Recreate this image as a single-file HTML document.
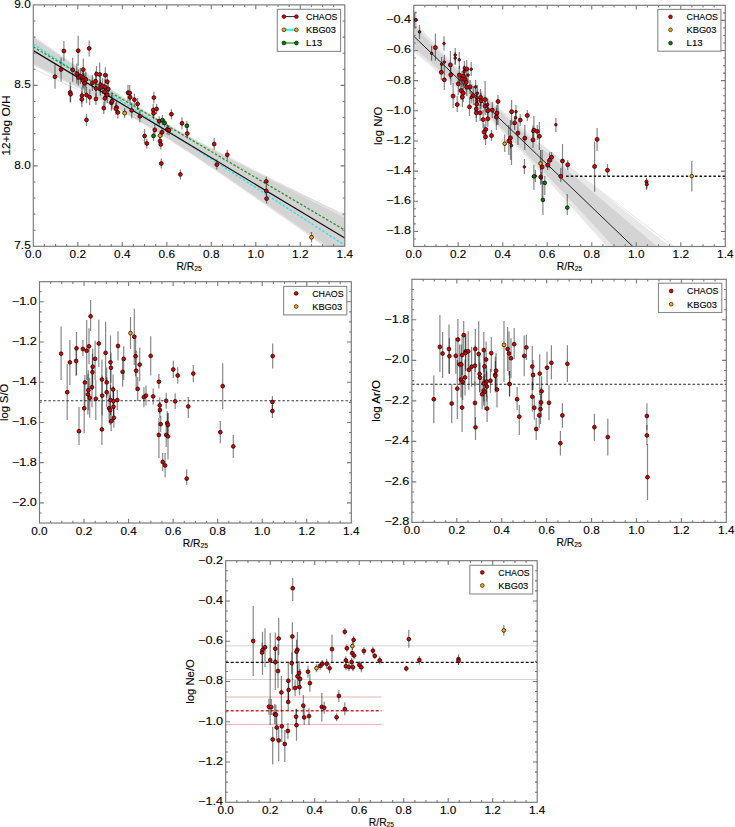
<!DOCTYPE html><html><head><meta charset="utf-8"><style>html,body{margin:0;padding:0;background:#fff;}svg{display:block;}text{font-family:"Liberation Sans",sans-serif;font-size:10.3px;fill:#000;stroke:#000;stroke-width:0.12px;}</style></head><body>
<svg width="735" height="827" viewBox="0 0 735 827">
<rect width="735" height="827" fill="#fff"/>
<defs>
<clipPath id="c0"><rect x="33.3" y="4.9" width="311.5" height="241.4"/></clipPath>
<clipPath id="c1"><rect x="413.7" y="5.3" width="311.59999999999997" height="241.2"/></clipPath>
<clipPath id="c2"><rect x="39.5" y="281.7" width="311.8" height="241.3"/></clipPath>
<clipPath id="c3"><rect x="411.9" y="279.3" width="314.4" height="243.09999999999997"/></clipPath>
<clipPath id="c4"><rect x="225.7" y="560.7" width="311.50000000000006" height="241.5999999999999"/></clipPath>
</defs>
<g clip-path="url(#c0)">
<polygon points="33.30,35.91 37.75,39.01 42.20,42.11 46.65,45.21 51.10,48.29 55.55,51.38 60.00,54.45 64.45,57.52 68.90,60.58 73.35,63.63 77.80,66.68 82.25,69.71 86.70,72.73 91.15,75.74 95.60,78.73 100.05,81.71 104.50,84.68 108.95,87.62 113.40,90.54 117.85,93.44 122.30,96.32 126.75,99.16 131.20,101.98 135.65,104.78 140.10,107.54 144.55,110.26 149.00,112.96 153.45,115.62 157.90,118.25 162.35,120.84 166.80,123.41 171.25,125.94 175.70,128.45 180.15,130.93 184.60,133.39 189.05,135.82 193.50,138.23 197.95,140.63 202.40,143.01 206.85,145.37 211.30,147.71 215.75,150.05 220.20,152.37 224.65,154.68 229.10,156.99 233.55,159.28 238.00,161.57 242.45,163.85 246.90,166.12 251.35,168.39 255.80,170.65 260.25,172.91 264.70,175.16 269.15,177.41 273.60,179.66 278.05,181.90 282.50,184.14 286.95,186.38 291.40,188.61 295.85,190.84 300.30,193.07 304.75,195.30 309.20,197.52 313.65,199.75 318.10,201.97 322.55,204.19 327.00,206.40 331.45,208.62 335.90,210.84 340.35,213.05 344.80,215.26 344.80,260.86 340.35,257.71 335.90,254.57 331.45,251.43 327.00,248.29 322.55,245.15 318.10,242.02 313.65,238.88 309.20,235.75 304.75,232.62 300.30,229.49 295.85,226.36 291.40,223.24 286.95,220.12 282.50,217.00 278.05,213.88 273.60,210.77 269.15,207.66 264.70,204.55 260.25,201.45 255.80,198.35 251.35,195.26 246.90,192.17 242.45,189.09 238.00,186.01 233.55,182.94 229.10,179.88 224.65,176.83 220.20,173.78 215.75,170.75 211.30,167.73 206.85,164.72 202.40,161.73 197.95,158.75 193.50,155.79 189.05,152.84 184.60,149.92 180.15,147.02 175.70,144.15 171.25,141.30 166.80,138.48 162.35,135.69 157.90,132.93 153.45,130.20 149.00,127.51 144.55,124.84 140.10,122.22 135.65,119.62 131.20,117.05 126.75,114.52 122.30,112.01 117.85,109.53 113.40,107.07 108.95,104.64 104.50,102.23 100.05,99.83 95.60,97.46 91.15,95.10 86.70,92.75 82.25,90.41 77.80,88.09 73.35,85.78 68.90,83.48 64.45,81.18 60.00,78.89 55.55,76.61 51.10,74.34 46.65,72.07 42.20,69.81 37.75,67.55 33.30,65.30" fill="#e3e3e3"/>
<polygon points="33.30,37.60 37.75,40.66 42.20,43.71 46.65,46.75 51.10,49.79 55.55,52.83 60.00,55.86 64.45,58.88 68.90,61.90 73.35,64.91 77.80,67.91 82.25,70.90 86.70,73.88 91.15,76.85 95.60,79.81 100.05,82.76 104.50,85.69 108.95,88.60 113.40,91.49 117.85,94.37 122.30,97.22 126.75,100.05 131.20,102.85 135.65,105.63 140.10,108.38 144.55,111.10 149.00,113.79 153.45,116.46 157.90,119.09 162.35,121.70 166.80,124.28 171.25,126.83 175.70,129.35 180.15,131.86 184.60,134.34 189.05,136.80 193.50,139.24 197.95,141.67 202.40,144.08 206.85,146.48 211.30,148.87 215.75,151.24 220.20,153.60 224.65,155.96 229.10,158.30 233.55,160.64 238.00,162.97 242.45,165.30 246.90,167.62 251.35,169.94 255.80,172.25 260.25,174.55 264.70,176.85 269.15,179.15 273.60,181.45 278.05,183.74 282.50,186.03 286.95,188.32 291.40,190.60 295.85,192.89 300.30,195.17 304.75,197.44 309.20,199.72 313.65,202.00 318.10,204.27 322.55,206.54 327.00,208.81 331.45,211.08 335.90,213.35 340.35,215.62 344.80,217.89 344.80,258.23 340.35,255.14 335.90,252.06 331.45,248.97 327.00,245.88 322.55,242.80 318.10,239.71 313.65,236.63 309.20,233.55 304.75,230.47 300.30,227.40 295.85,224.32 291.40,221.25 286.95,218.18 282.50,215.11 278.05,212.04 273.60,208.98 269.15,205.92 264.70,202.86 260.25,199.81 255.80,196.76 251.35,193.71 246.90,190.67 242.45,187.63 238.00,184.60 233.55,181.58 229.10,178.56 224.65,175.55 220.20,172.55 215.75,169.56 211.30,166.58 206.85,163.61 202.40,160.65 197.95,157.71 193.50,154.78 189.05,151.86 184.60,148.97 180.15,146.10 175.70,143.24 171.25,140.41 166.80,137.61 162.35,134.83 157.90,132.08 153.45,129.36 149.00,126.67 144.55,124.01 140.10,121.37 135.65,118.77 131.20,116.19 126.75,113.64 122.30,111.11 117.85,108.61 113.40,106.12 108.95,103.66 104.50,101.22 100.05,98.79 95.60,96.38 91.15,93.98 86.70,91.60 82.25,89.22 77.80,86.86 73.35,84.50 68.90,82.16 64.45,79.82 60.00,77.49 55.55,75.16 51.10,72.84 46.65,70.53 42.20,68.22 37.75,65.91 33.30,63.61" fill="#d3d3d3"/>
<line x1="33.3" y1="68.7" x2="345" y2="214.9" stroke="#d8d8d8" stroke-width="0.7"/>
<line x1="33.30" y1="44.17" x2="344.80" y2="245.14" stroke="#22e5e5" stroke-width="1.35" stroke-dasharray="2.5 1.8"/>
<line x1="33.30" y1="46.90" x2="344.80" y2="230.08" stroke="#2a962a" stroke-width="1.35" stroke-dasharray="2.5 1.8"/>
<line x1="33.30" y1="50.61" x2="344.80" y2="238.06" stroke="#111" stroke-width="1.25"/>
<g stroke="#000" stroke-opacity="0.47" stroke-width="1.2">
<path d="M55.00 64.70V88.70"/>
<path d="M61.10 57.50V81.50"/>
<path d="M63.90 41.00V61.00"/>
<path d="M72.70 57.80V81.80"/>
<path d="M78.20 35.70V65.70"/>
<path d="M89.20 40.40V56.40"/>
<path d="M70.20 82.40V102.40"/>
<path d="M70.60 86.20V102.20"/>
<path d="M76.80 63.60V83.60"/>
<path d="M78.40 69.50V85.50"/>
<path d="M80.40 68.10V84.10"/>
<path d="M82.90 67.50V87.50"/>
<path d="M83.30 58.60V80.60"/>
<path d="M83.10 72.60V88.60"/>
<path d="M84.80 73.20V93.20"/>
<path d="M85.90 71.50V87.50"/>
<path d="M82.00 87.60V103.60"/>
<path d="M81.80 91.30V107.30"/>
<path d="M86.50 86.90V102.90"/>
<path d="M89.70 89.20V105.20"/>
<path d="M86.50 113.90V125.90"/>
<path d="M92.40 74.90V90.90"/>
<path d="M95.60 71.20V91.20"/>
<path d="M96.50 66.10V82.10"/>
<path d="M99.70 62.50V86.50"/>
<path d="M105.30 67.20V83.20"/>
<path d="M107.30 73.60V89.60"/>
<path d="M96.10 80.40V96.40"/>
<path d="M95.90 92.90V104.90"/>
<path d="M100.50 76.70V92.70"/>
<path d="M100.40 79.70V95.70"/>
<path d="M102.60 78.30V94.30"/>
<path d="M104.90 79.00V95.00"/>
<path d="M108.30 81.00V97.00"/>
<path d="M104.60 83.80V99.80"/>
<path d="M107.30 86.90V102.90"/>
<path d="M104.90 90.30V106.30"/>
<path d="M103.80 102.10V114.10"/>
<path d="M111.40 94.70V110.70"/>
<path d="M112.10 93.30V109.30"/>
<path d="M116.50 101.40V113.40"/>
<path d="M115.80 102.80V114.80"/>
<path d="M117.80 106.40V118.40"/>
<path d="M128.00 84.70V100.70"/>
<path d="M129.70 84.90V100.90"/>
<path d="M130.10 91.20V103.20"/>
<path d="M134.40 93.70V105.70"/>
<path d="M137.60 98.00V110.00"/>
<path d="M131.70 102.40V118.40"/>
<path d="M139.90 110.30V122.30"/>
<path d="M153.90 91.60V103.60"/>
<path d="M153.20 104.10V116.10"/>
<path d="M153.60 107.30V119.30"/>
<path d="M156.60 104.00V114.00"/>
<path d="M154.80 123.90V135.90"/>
<path d="M144.60 129.00V143.00"/>
<path d="M146.80 138.50V148.50"/>
<path d="M159.20 116.20V126.20"/>
<path d="M162.00 127.30V137.30"/>
<path d="M167.30 124.40V134.40"/>
<path d="M169.00 125.20V135.20"/>
<path d="M160.00 136.10V146.10"/>
<path d="M160.80 139.40V149.40"/>
<path d="M171.40 109.20V119.20"/>
<path d="M182.00 117.30V129.30"/>
<path d="M187.30 128.50V138.50"/>
<path d="M161.30 158.50V168.50"/>
<path d="M180.40 169.40V179.40"/>
<path d="M214.20 138.10V150.10"/>
<path d="M227.30 149.80V159.80"/>
<path d="M216.80 159.60V169.60"/>
<path d="M266.30 176.40V186.40"/>
<path d="M266.30 185.90V195.90"/>
<path d="M266.60 193.60V203.60"/>
<path d="M162.40 115.10V125.10"/>
<path d="M164.60 118.90V126.90"/>
<path d="M186.90 120.80V130.80"/>
<path d="M153.50 130.90V140.90"/>
<path d="M124.60 108.10V118.10"/>
<path d="M160.00 131.60V139.60"/>
<path d="M311.50 232.00V242.60"/>
</g>
<circle cx="55.00" cy="76.70" r="1.95" fill="#e00000" stroke="#000" stroke-width="0.7"/>
<circle cx="61.10" cy="69.50" r="1.95" fill="#e00000" stroke="#000" stroke-width="0.7"/>
<circle cx="63.90" cy="51.00" r="1.95" fill="#e00000" stroke="#000" stroke-width="0.7"/>
<circle cx="72.70" cy="69.80" r="1.95" fill="#e00000" stroke="#000" stroke-width="0.7"/>
<circle cx="78.20" cy="50.70" r="1.95" fill="#e00000" stroke="#000" stroke-width="0.7"/>
<circle cx="89.20" cy="48.40" r="1.95" fill="#e00000" stroke="#000" stroke-width="0.7"/>
<circle cx="70.20" cy="92.40" r="1.95" fill="#e00000" stroke="#000" stroke-width="0.7"/>
<circle cx="70.60" cy="94.20" r="1.95" fill="#e00000" stroke="#000" stroke-width="0.7"/>
<circle cx="76.80" cy="73.60" r="1.95" fill="#e00000" stroke="#000" stroke-width="0.7"/>
<circle cx="78.40" cy="77.50" r="1.95" fill="#e00000" stroke="#000" stroke-width="0.7"/>
<circle cx="80.40" cy="76.10" r="1.95" fill="#e00000" stroke="#000" stroke-width="0.7"/>
<circle cx="82.90" cy="77.50" r="1.95" fill="#e00000" stroke="#000" stroke-width="0.7"/>
<circle cx="83.30" cy="69.60" r="1.95" fill="#e00000" stroke="#000" stroke-width="0.7"/>
<circle cx="83.10" cy="80.60" r="1.95" fill="#e00000" stroke="#000" stroke-width="0.7"/>
<circle cx="84.80" cy="83.20" r="1.95" fill="#e00000" stroke="#000" stroke-width="0.7"/>
<circle cx="85.90" cy="79.50" r="1.95" fill="#e00000" stroke="#000" stroke-width="0.7"/>
<circle cx="82.00" cy="95.60" r="1.95" fill="#e00000" stroke="#000" stroke-width="0.7"/>
<circle cx="81.80" cy="99.30" r="1.95" fill="#e00000" stroke="#000" stroke-width="0.7"/>
<circle cx="86.50" cy="94.90" r="1.95" fill="#e00000" stroke="#000" stroke-width="0.7"/>
<circle cx="89.70" cy="97.20" r="1.95" fill="#e00000" stroke="#000" stroke-width="0.7"/>
<circle cx="86.50" cy="119.90" r="1.95" fill="#e00000" stroke="#000" stroke-width="0.7"/>
<circle cx="92.40" cy="82.90" r="1.95" fill="#e00000" stroke="#000" stroke-width="0.7"/>
<circle cx="95.60" cy="81.20" r="1.95" fill="#e00000" stroke="#000" stroke-width="0.7"/>
<circle cx="96.50" cy="74.10" r="1.95" fill="#e00000" stroke="#000" stroke-width="0.7"/>
<circle cx="99.70" cy="74.50" r="1.95" fill="#e00000" stroke="#000" stroke-width="0.7"/>
<circle cx="105.30" cy="75.20" r="1.95" fill="#e00000" stroke="#000" stroke-width="0.7"/>
<circle cx="107.30" cy="81.60" r="1.95" fill="#e00000" stroke="#000" stroke-width="0.7"/>
<circle cx="96.10" cy="88.40" r="1.95" fill="#e00000" stroke="#000" stroke-width="0.7"/>
<circle cx="95.90" cy="98.90" r="1.95" fill="#e00000" stroke="#000" stroke-width="0.7"/>
<circle cx="100.50" cy="84.70" r="1.95" fill="#e00000" stroke="#000" stroke-width="0.7"/>
<circle cx="100.40" cy="87.70" r="1.95" fill="#e00000" stroke="#000" stroke-width="0.7"/>
<circle cx="102.60" cy="86.30" r="1.95" fill="#e00000" stroke="#000" stroke-width="0.7"/>
<circle cx="104.90" cy="87.00" r="1.95" fill="#e00000" stroke="#000" stroke-width="0.7"/>
<circle cx="108.30" cy="89.00" r="1.95" fill="#e00000" stroke="#000" stroke-width="0.7"/>
<circle cx="104.60" cy="91.80" r="1.95" fill="#e00000" stroke="#000" stroke-width="0.7"/>
<circle cx="107.30" cy="94.90" r="1.95" fill="#e00000" stroke="#000" stroke-width="0.7"/>
<circle cx="104.90" cy="98.30" r="1.95" fill="#e00000" stroke="#000" stroke-width="0.7"/>
<circle cx="103.80" cy="108.10" r="1.95" fill="#e00000" stroke="#000" stroke-width="0.7"/>
<circle cx="111.40" cy="102.70" r="1.95" fill="#e00000" stroke="#000" stroke-width="0.7"/>
<circle cx="112.10" cy="101.30" r="1.95" fill="#e00000" stroke="#000" stroke-width="0.7"/>
<circle cx="116.50" cy="107.40" r="1.95" fill="#e00000" stroke="#000" stroke-width="0.7"/>
<circle cx="115.80" cy="108.80" r="1.95" fill="#e00000" stroke="#000" stroke-width="0.7"/>
<circle cx="117.80" cy="112.40" r="1.95" fill="#e00000" stroke="#000" stroke-width="0.7"/>
<circle cx="128.00" cy="92.70" r="1.95" fill="#e00000" stroke="#000" stroke-width="0.7"/>
<circle cx="129.70" cy="92.90" r="1.95" fill="#e00000" stroke="#000" stroke-width="0.7"/>
<circle cx="130.10" cy="97.20" r="1.95" fill="#e00000" stroke="#000" stroke-width="0.7"/>
<circle cx="134.40" cy="99.70" r="1.95" fill="#e00000" stroke="#000" stroke-width="0.7"/>
<circle cx="137.60" cy="104.00" r="1.95" fill="#e00000" stroke="#000" stroke-width="0.7"/>
<circle cx="131.70" cy="110.40" r="1.95" fill="#e00000" stroke="#000" stroke-width="0.7"/>
<circle cx="139.90" cy="116.30" r="1.95" fill="#e00000" stroke="#000" stroke-width="0.7"/>
<circle cx="153.90" cy="97.60" r="1.95" fill="#e00000" stroke="#000" stroke-width="0.7"/>
<circle cx="153.20" cy="110.10" r="1.95" fill="#e00000" stroke="#000" stroke-width="0.7"/>
<circle cx="153.60" cy="113.30" r="1.95" fill="#e00000" stroke="#000" stroke-width="0.7"/>
<circle cx="156.60" cy="109.00" r="1.95" fill="#e00000" stroke="#000" stroke-width="0.7"/>
<circle cx="154.80" cy="129.90" r="1.95" fill="#e00000" stroke="#000" stroke-width="0.7"/>
<circle cx="144.60" cy="136.00" r="1.95" fill="#e00000" stroke="#000" stroke-width="0.7"/>
<circle cx="146.80" cy="143.50" r="1.95" fill="#e00000" stroke="#000" stroke-width="0.7"/>
<circle cx="159.20" cy="121.20" r="1.95" fill="#e00000" stroke="#000" stroke-width="0.7"/>
<circle cx="162.00" cy="132.30" r="1.95" fill="#e00000" stroke="#000" stroke-width="0.7"/>
<circle cx="167.30" cy="129.40" r="1.95" fill="#e00000" stroke="#000" stroke-width="0.7"/>
<circle cx="169.00" cy="130.20" r="1.95" fill="#e00000" stroke="#000" stroke-width="0.7"/>
<circle cx="160.00" cy="141.10" r="1.95" fill="#e00000" stroke="#000" stroke-width="0.7"/>
<circle cx="160.80" cy="144.40" r="1.95" fill="#e00000" stroke="#000" stroke-width="0.7"/>
<circle cx="171.40" cy="114.20" r="1.95" fill="#e00000" stroke="#000" stroke-width="0.7"/>
<circle cx="182.00" cy="123.30" r="1.95" fill="#e00000" stroke="#000" stroke-width="0.7"/>
<circle cx="187.30" cy="133.50" r="1.95" fill="#e00000" stroke="#000" stroke-width="0.7"/>
<circle cx="161.30" cy="163.50" r="1.95" fill="#e00000" stroke="#000" stroke-width="0.7"/>
<circle cx="180.40" cy="174.40" r="1.95" fill="#e00000" stroke="#000" stroke-width="0.7"/>
<circle cx="214.20" cy="144.10" r="1.95" fill="#e00000" stroke="#000" stroke-width="0.7"/>
<circle cx="227.30" cy="154.80" r="1.95" fill="#e00000" stroke="#000" stroke-width="0.7"/>
<circle cx="216.80" cy="164.60" r="1.95" fill="#e00000" stroke="#000" stroke-width="0.7"/>
<circle cx="266.30" cy="181.40" r="1.95" fill="#e00000" stroke="#000" stroke-width="0.7"/>
<circle cx="266.30" cy="190.90" r="1.95" fill="#e00000" stroke="#000" stroke-width="0.7"/>
<circle cx="266.60" cy="198.60" r="1.95" fill="#e00000" stroke="#000" stroke-width="0.7"/>
<circle cx="162.40" cy="120.10" r="1.95" fill="#008000" stroke="#000" stroke-width="0.7"/>
<circle cx="164.60" cy="122.90" r="1.95" fill="#008000" stroke="#000" stroke-width="0.7"/>
<circle cx="186.90" cy="125.80" r="1.95" fill="#008000" stroke="#000" stroke-width="0.7"/>
<circle cx="153.50" cy="135.90" r="1.95" fill="#008000" stroke="#000" stroke-width="0.7"/>
<circle cx="124.60" cy="113.10" r="1.95" fill="#ffa500" stroke="#000" stroke-width="0.7"/>
<circle cx="160.00" cy="135.60" r="1.95" fill="#ffa500" stroke="#000" stroke-width="0.7"/>
<circle cx="311.50" cy="237.30" r="1.95" fill="#ffa500" stroke="#000" stroke-width="0.7"/>
</g>
<path d="M44.42 246.30v-2.2M44.42 4.90v2.2M55.55 246.30v-2.2M55.55 4.90v2.2M66.68 246.30v-2.2M66.68 4.90v2.2M77.80 246.30v-4.3M77.80 4.90v4.3M88.92 246.30v-2.2M88.92 4.90v2.2M100.05 246.30v-2.2M100.05 4.90v2.2M111.18 246.30v-2.2M111.18 4.90v2.2M122.30 246.30v-4.3M122.30 4.90v4.3M133.43 246.30v-2.2M133.43 4.90v2.2M144.55 246.30v-2.2M144.55 4.90v2.2M155.68 246.30v-2.2M155.68 4.90v2.2M166.80 246.30v-4.3M166.80 4.90v4.3M177.93 246.30v-2.2M177.93 4.90v2.2M189.05 246.30v-2.2M189.05 4.90v2.2M200.18 246.30v-2.2M200.18 4.90v2.2M211.30 246.30v-4.3M211.30 4.90v4.3M222.43 246.30v-2.2M222.43 4.90v2.2M233.55 246.30v-2.2M233.55 4.90v2.2M244.68 246.30v-2.2M244.68 4.90v2.2M255.80 246.30v-4.3M255.80 4.90v4.3M266.93 246.30v-2.2M266.93 4.90v2.2M278.05 246.30v-2.2M278.05 4.90v2.2M289.18 246.30v-2.2M289.18 4.90v2.2M300.30 246.30v-4.3M300.30 4.90v4.3M311.43 246.30v-2.2M311.43 4.90v2.2M322.55 246.30v-2.2M322.55 4.90v2.2M333.68 246.30v-2.2M333.68 4.90v2.2M33.30 230.21h2.2M344.80 230.21h-2.2M33.30 214.11h2.2M344.80 214.11h-2.2M33.30 198.02h2.2M344.80 198.02h-2.2M33.30 181.93h2.2M344.80 181.93h-2.2M33.30 165.83h4.3M344.80 165.83h-4.3M33.30 149.74h2.2M344.80 149.74h-2.2M33.30 133.65h2.2M344.80 133.65h-2.2M33.30 117.55h2.2M344.80 117.55h-2.2M33.30 101.46h2.2M344.80 101.46h-2.2M33.30 85.37h4.3M344.80 85.37h-4.3M33.30 69.27h2.2M344.80 69.27h-2.2M33.30 53.18h2.2M344.80 53.18h-2.2M33.30 37.09h2.2M344.80 37.09h-2.2M33.30 20.99h2.2M344.80 20.99h-2.2" stroke="#777777" stroke-width="1.1" fill="none"/>
<rect x="33.30" y="4.90" width="311.50" height="241.40" fill="none" stroke="#777777" stroke-width="1.15"/>
<text x="33.30" y="258.00" text-anchor="middle" textLength="16.38" lengthAdjust="spacingAndGlyphs">0.0</text>
<text x="77.80" y="258.00" text-anchor="middle" textLength="16.38" lengthAdjust="spacingAndGlyphs">0.2</text>
<text x="122.30" y="258.00" text-anchor="middle" textLength="16.38" lengthAdjust="spacingAndGlyphs">0.4</text>
<text x="166.80" y="258.00" text-anchor="middle" textLength="16.38" lengthAdjust="spacingAndGlyphs">0.6</text>
<text x="211.30" y="258.00" text-anchor="middle" textLength="16.38" lengthAdjust="spacingAndGlyphs">0.8</text>
<text x="255.80" y="258.00" text-anchor="middle" textLength="16.38" lengthAdjust="spacingAndGlyphs">1.0</text>
<text x="300.30" y="258.00" text-anchor="middle" textLength="16.38" lengthAdjust="spacingAndGlyphs">1.2</text>
<text x="344.80" y="258.00" text-anchor="middle" textLength="16.38" lengthAdjust="spacingAndGlyphs">1.4</text>
<text x="30.70" y="249.25" text-anchor="end" textLength="16.38" lengthAdjust="spacingAndGlyphs">7.5</text>
<text x="30.70" y="168.78" text-anchor="end" textLength="16.38" lengthAdjust="spacingAndGlyphs">8.0</text>
<text x="30.70" y="88.32" text-anchor="end" textLength="16.38" lengthAdjust="spacingAndGlyphs">8.5</text>
<text x="30.70" y="7.85" text-anchor="end" textLength="16.38" lengthAdjust="spacingAndGlyphs">9.0</text>
<text x="176.42" y="270.00" textLength="17.78" lengthAdjust="spacingAndGlyphs">R/R</text>
<text x="194.21" y="271.20" style="font-size:7.00px" textLength="7.47" lengthAdjust="spacingAndGlyphs">25</text>
<text transform="translate(10.40 125.60) rotate(-90)" x="0" y="0" text-anchor="middle" textLength="60.03" lengthAdjust="spacingAndGlyphs">12+log O/H</text>
<rect x="277.30" y="9.30" width="63.30" height="42.10" fill="#fff" stroke="#8a8a8a" stroke-width="1.1"/>
<line x1="283.9" y1="16.6" x2="296.4" y2="16.6" stroke="#222" stroke-width="1.0"/>
<circle cx="283.9" cy="16.6" r="1.9" fill="#e00000" stroke="#000" stroke-width="0.6"/>
<circle cx="296.4" cy="16.6" r="1.9" fill="#e00000" stroke="#000" stroke-width="0.6"/>
<text x="306.0" y="19.90" style="font-size:9.0px" textLength="31.47" lengthAdjust="spacingAndGlyphs">CHAOS</text>
<line x1="283.9" y1="29.8" x2="296.4" y2="29.8" stroke="#33f0f0" stroke-width="2.2"/>
<circle cx="283.9" cy="29.8" r="1.9" fill="#ffa500" stroke="#000" stroke-width="0.6"/>
<circle cx="296.4" cy="29.8" r="1.9" fill="#ffa500" stroke="#000" stroke-width="0.6"/>
<text x="306.0" y="33.10" style="font-size:9.0px" textLength="29.96" lengthAdjust="spacingAndGlyphs">KBG03</text>
<line x1="283.9" y1="43.0" x2="296.4" y2="43.0" stroke="#70c070" stroke-width="2.2"/>
<circle cx="283.9" cy="43.0" r="1.9" fill="#008000" stroke="#000" stroke-width="0.6"/>
<circle cx="296.4" cy="43.0" r="1.9" fill="#008000" stroke="#000" stroke-width="0.6"/>
<text x="306.0" y="46.30" style="font-size:9.0px" textLength="16.19" lengthAdjust="spacingAndGlyphs">L13</text>
<g clip-path="url(#c1)">
<polygon points="413.70,20.54 418.15,25.44 422.60,30.32 427.05,35.18 431.51,40.01 435.96,44.82 440.41,49.60 444.86,54.34 449.31,59.04 453.76,63.70 458.21,68.31 462.67,72.87 467.12,77.37 471.57,81.81 476.02,86.18 480.47,90.49 484.92,94.73 489.37,98.90 493.83,103.01 498.28,107.05 502.73,111.04 507.18,114.97 511.63,118.86 516.08,122.70 520.53,126.50 524.99,130.27 529.44,134.00 533.89,137.71 538.34,141.40 542.79,145.06 547.24,148.71 551.69,152.34 556.15,155.95 560.60,159.55 565.05,163.14 569.50,166.72 573.95,170.29 578.40,173.85 582.85,177.41 587.31,180.95 591.76,184.49 596.21,188.03 600.66,191.56 605.11,195.09 609.56,198.61 614.01,202.13 618.47,205.64 622.92,209.15 627.37,212.66 631.82,216.17 636.27,219.67 640.72,223.17 645.17,226.67 649.63,230.16 654.08,233.66 658.53,237.15 662.98,240.64 667.43,244.13 671.88,247.62 676.33,251.11 680.79,254.59 685.24,258.08 689.69,261.56 694.14,265.05 698.59,268.53 703.04,272.01 707.49,275.49 711.95,278.97 716.40,282.44 720.85,285.92 725.30,289.40 725.30,381.12 720.85,376.06 716.40,370.99 711.95,365.92 707.49,360.86 703.04,355.79 698.59,350.73 694.14,345.67 689.69,340.60 685.24,335.54 680.79,330.48 676.33,325.42 671.88,320.37 667.43,315.31 662.98,310.26 658.53,305.20 654.08,300.15 649.63,295.10 645.17,290.05 640.72,285.01 636.27,279.96 631.82,274.92 627.37,269.88 622.92,264.85 618.47,259.81 614.01,254.78 609.56,249.76 605.11,244.74 600.66,239.72 596.21,234.70 591.76,229.69 587.31,224.69 582.85,219.69 578.40,214.70 573.95,209.72 569.50,204.74 565.05,199.78 560.60,194.82 556.15,189.88 551.69,184.95 547.24,180.03 542.79,175.14 538.34,170.25 533.89,165.40 529.44,160.56 524.99,155.75 520.53,150.98 516.08,146.23 511.63,141.53 507.18,136.87 502.73,132.26 498.28,127.70 493.83,123.20 489.37,118.77 484.92,114.39 480.47,110.09 476.02,105.85 471.57,101.68 467.12,97.57 462.67,93.52 458.21,89.54 453.76,85.60 449.31,81.72 444.86,77.88 440.41,74.08 435.96,70.31 431.51,66.57 427.05,62.86 422.60,59.18 418.15,55.51 413.70,51.87" fill="#e8e8e8"/>
<polygon points="413.70,24.88 418.15,29.57 422.60,34.24 427.05,38.90 431.51,43.54 435.96,48.16 440.41,52.75 444.86,57.33 449.31,61.88 453.76,66.39 458.21,70.88 462.67,75.33 467.12,79.75 471.57,84.12 476.02,88.46 480.47,92.75 484.92,97.00 489.37,101.21 493.83,105.38 498.28,109.51 502.73,113.60 507.18,117.66 511.63,121.69 516.08,125.68 520.53,129.65 524.99,133.60 529.44,137.53 533.89,141.43 538.34,145.32 542.79,149.19 547.24,153.05 551.69,156.90 556.15,160.73 560.60,164.55 565.05,168.37 569.50,172.18 573.95,175.98 578.40,179.77 582.85,183.56 587.31,187.34 591.76,191.12 596.21,194.90 600.66,198.67 605.11,202.43 609.56,206.19 614.01,209.95 618.47,213.71 622.92,217.46 627.37,221.21 631.82,224.96 636.27,228.71 640.72,232.46 645.17,236.20 649.63,239.94 654.08,243.68 658.53,247.42 662.98,251.16 667.43,254.89 671.88,258.63 676.33,262.36 680.79,266.10 685.24,269.83 689.69,273.56 694.14,277.29 698.59,281.02 703.04,284.75 707.49,288.47 711.95,292.20 716.40,295.93 720.85,299.65 725.30,303.38 725.30,367.14 720.85,362.32 716.40,357.51 711.95,352.69 707.49,347.87 703.04,343.05 698.59,338.24 694.14,333.42 689.69,328.61 685.24,323.79 680.79,318.98 676.33,314.17 671.88,309.36 667.43,304.55 662.98,299.74 658.53,294.94 654.08,290.13 649.63,285.33 645.17,280.52 640.72,275.72 636.27,270.92 631.82,266.12 627.37,261.33 622.92,256.54 618.47,251.75 614.01,246.96 609.56,242.17 605.11,237.39 600.66,232.61 596.21,227.84 591.76,223.07 587.31,218.30 582.85,213.54 578.40,208.78 573.95,204.03 569.50,199.29 565.05,194.55 560.60,189.82 556.15,185.10 551.69,180.39 547.24,175.69 542.79,171.01 538.34,166.34 533.89,161.68 529.44,157.04 524.99,152.42 520.53,147.82 516.08,143.25 511.63,138.70 507.18,134.18 502.73,129.70 498.28,125.24 493.83,120.83 489.37,116.45 484.92,112.12 480.47,107.83 476.02,103.57 471.57,99.36 467.12,95.20 462.67,91.07 458.21,86.97 453.76,82.91 449.31,78.89 444.86,74.89 440.41,70.92 435.96,66.97 431.51,63.05 427.05,59.14 422.60,55.26 418.15,51.38 413.70,47.53" fill="#d4d4d4"/>
<line x1="413.7" y1="48.4" x2="725" y2="285.6" stroke="#d8d8d8" stroke-width="0.7"/>
<line x1="413.70" y1="36.20" x2="658.53" y2="271.18" stroke="#222" stroke-width="1.0"/>
<path d="M415.6 12.6V27" stroke="#c4c4c4" stroke-width="1.6"/>
<path d="M416.6 12.3H414.3V27.2H416.6" stroke="#444" stroke-width="1.0" fill="none"/>
<line x1="566.16" y1="176.25" x2="725.3" y2="176.25" stroke="#111" stroke-width="1.3" stroke-dasharray="2.5 2.1"/>
<g stroke="#000" stroke-opacity="0.47" stroke-width="1.2">
<path d="M419.50 24.70V39.00"/>
<path d="M431.60 45.80V60.80"/>
<path d="M435.40 33.60V60.80"/>
<path d="M444.00 36.30V50.60"/>
<path d="M441.60 57.00V73.00"/>
<path d="M444.30 55.00V72.00"/>
<path d="M441.30 65.00V80.00"/>
<path d="M450.40 51.00V79.00"/>
<path d="M450.80 67.00V85.00"/>
<path d="M444.30 72.00V90.00"/>
<path d="M455.20 48.00V65.00"/>
<path d="M455.20 52.10V64.10"/>
<path d="M459.30 52.00V69.00"/>
<path d="M459.30 66.00V85.00"/>
<path d="M464.40 61.00V77.00"/>
<path d="M464.20 65.40V77.40"/>
<path d="M466.70 60.00V78.00"/>
<path d="M471.20 62.00V76.00"/>
<path d="M463.30 68.00V86.00"/>
<path d="M468.10 68.00V82.00"/>
<path d="M462.00 71.10V87.10"/>
<path d="M465.10 71.70V87.70"/>
<path d="M466.10 74.40V90.40"/>
<path d="M458.30 75.00V95.00"/>
<path d="M466.70 78.00V96.00"/>
<path d="M470.10 80.00V94.00"/>
<path d="M475.60 80.00V94.00"/>
<path d="M461.00 82.00V100.00"/>
<path d="M463.30 84.00V102.00"/>
<path d="M462.40 88.00V107.00"/>
<path d="M453.10 83.00V108.00"/>
<path d="M457.20 96.00V112.00"/>
<path d="M477.30 85.00V102.00"/>
<path d="M473.30 86.00V105.00"/>
<path d="M471.20 91.40V103.40"/>
<path d="M476.50 91.80V103.80"/>
<path d="M480.60 89.00V106.00"/>
<path d="M485.10 81.00V110.00"/>
<path d="M476.70 94.50V106.50"/>
<path d="M481.00 92.80V108.80"/>
<path d="M476.70 96.00V113.00"/>
<path d="M485.10 98.00V115.00"/>
<path d="M487.60 98.60V110.60"/>
<path d="M469.50 98.00V116.00"/>
<path d="M476.30 100.00V118.00"/>
<path d="M476.30 104.00V122.00"/>
<path d="M480.10 104.00V121.00"/>
<path d="M487.80 102.00V120.00"/>
<path d="M492.30 102.00V118.00"/>
<path d="M498.00 95.00V125.00"/>
<path d="M496.90 105.00V125.00"/>
<path d="M496.30 108.00V130.00"/>
<path d="M483.10 110.00V128.00"/>
<path d="M487.80 110.00V127.00"/>
<path d="M511.60 100.00V125.00"/>
<path d="M516.00 105.00V118.00"/>
<path d="M515.70 112.00V124.00"/>
<path d="M520.20 114.00V126.00"/>
<path d="M514.60 116.00V130.00"/>
<path d="M527.30 110.00V121.00"/>
<path d="M485.80 120.00V138.00"/>
<path d="M484.10 124.00V140.00"/>
<path d="M485.60 130.00V145.00"/>
<path d="M491.50 130.00V141.00"/>
<path d="M555.90 118.00V132.00"/>
<path d="M533.90 116.00V142.00"/>
<path d="M532.90 125.40V137.40"/>
<path d="M537.30 125.00V140.00"/>
<path d="M539.40 122.00V150.00"/>
<path d="M533.00 130.00V148.00"/>
<path d="M524.80 125.00V150.00"/>
<path d="M517.90 122.00V145.00"/>
<path d="M510.50 120.00V160.00"/>
<path d="M508.80 125.00V155.00"/>
<path d="M510.50 136.40V148.40"/>
<path d="M511.50 140.00V165.00"/>
<path d="M524.40 159.00V174.00"/>
<path d="M551.60 152.00V162.00"/>
<path d="M549.60 152.30V168.30"/>
<path d="M547.60 160.00V170.00"/>
<path d="M562.50 144.00V176.00"/>
<path d="M567.70 160.00V170.00"/>
<path d="M542.10 150.00V200.00"/>
<path d="M540.70 168.90V184.90"/>
<path d="M541.20 172.00V184.00"/>
<path d="M535.40 170.10V182.10"/>
<path d="M560.80 168.00V182.00"/>
<path d="M594.60 141.70V191.70"/>
<path d="M607.50 164.00V176.00"/>
<path d="M597.10 128.00V151.00"/>
<path d="M646.50 178.00V190.00"/>
<path d="M646.80 181.00V189.00"/>
<path d="M504.70 134.50V152.00"/>
<path d="M540.50 150.00V170.00"/>
<path d="M691.80 161.00V191.50"/>
<path d="M533.90 165.00V190.00"/>
<path d="M544.80 176.00V195.00"/>
<path d="M542.90 181.00V215.00"/>
<path d="M567.30 194.00V215.00"/>
</g>
<circle cx="415.80" cy="19.90" r="1.35" fill="#e00000" stroke="#000" stroke-width="0.7"/>
<circle cx="419.50" cy="31.90" r="1.3" fill="#e00000" stroke="#000" stroke-width="0.7"/>
<circle cx="431.60" cy="53.30" r="1.3" fill="#e00000" stroke="#000" stroke-width="0.7"/>
<circle cx="435.40" cy="47.60" r="2.0" fill="#e00000" stroke="#000" stroke-width="0.7"/>
<circle cx="444.00" cy="43.50" r="1.3" fill="#e00000" stroke="#000" stroke-width="0.7"/>
<circle cx="441.60" cy="64.20" r="1.3" fill="#e00000" stroke="#000" stroke-width="0.7"/>
<circle cx="444.30" cy="62.10" r="1.3" fill="#e00000" stroke="#000" stroke-width="0.7"/>
<circle cx="441.30" cy="72.30" r="2.0" fill="#e00000" stroke="#000" stroke-width="0.7"/>
<circle cx="450.40" cy="64.90" r="2.0" fill="#e00000" stroke="#000" stroke-width="0.7"/>
<circle cx="450.80" cy="74.70" r="2.0" fill="#e00000" stroke="#000" stroke-width="0.7"/>
<circle cx="444.30" cy="79.80" r="2.0" fill="#e00000" stroke="#000" stroke-width="0.7"/>
<circle cx="455.20" cy="55.10" r="1.3" fill="#e00000" stroke="#000" stroke-width="0.7"/>
<circle cx="455.20" cy="58.10" r="1.3" fill="#e00000" stroke="#000" stroke-width="0.7"/>
<circle cx="459.30" cy="59.80" r="1.3" fill="#e00000" stroke="#000" stroke-width="0.7"/>
<circle cx="459.30" cy="75.10" r="2.0" fill="#e00000" stroke="#000" stroke-width="0.7"/>
<circle cx="464.40" cy="67.90" r="1.3" fill="#e00000" stroke="#000" stroke-width="0.7"/>
<circle cx="464.20" cy="71.40" r="1.3" fill="#e00000" stroke="#000" stroke-width="0.7"/>
<circle cx="466.70" cy="68.90" r="2.0" fill="#e00000" stroke="#000" stroke-width="0.7"/>
<circle cx="471.20" cy="69.20" r="1.3" fill="#e00000" stroke="#000" stroke-width="0.7"/>
<circle cx="463.30" cy="76.20" r="2.0" fill="#e00000" stroke="#000" stroke-width="0.7"/>
<circle cx="468.10" cy="75.10" r="1.3" fill="#e00000" stroke="#000" stroke-width="0.7"/>
<circle cx="462.00" cy="79.10" r="2.0" fill="#e00000" stroke="#000" stroke-width="0.7"/>
<circle cx="465.10" cy="79.70" r="2.0" fill="#e00000" stroke="#000" stroke-width="0.7"/>
<circle cx="466.10" cy="82.40" r="2.0" fill="#e00000" stroke="#000" stroke-width="0.7"/>
<circle cx="458.30" cy="83.80" r="2.0" fill="#e00000" stroke="#000" stroke-width="0.7"/>
<circle cx="466.70" cy="87.20" r="2.0" fill="#e00000" stroke="#000" stroke-width="0.7"/>
<circle cx="470.10" cy="86.90" r="2.0" fill="#e00000" stroke="#000" stroke-width="0.7"/>
<circle cx="475.60" cy="86.90" r="1.3" fill="#e00000" stroke="#000" stroke-width="0.7"/>
<circle cx="461.00" cy="90.60" r="2.0" fill="#e00000" stroke="#000" stroke-width="0.7"/>
<circle cx="463.30" cy="93.10" r="2.0" fill="#e00000" stroke="#000" stroke-width="0.7"/>
<circle cx="462.40" cy="97.00" r="2.0" fill="#e00000" stroke="#000" stroke-width="0.7"/>
<circle cx="453.10" cy="96.10" r="2.0" fill="#e00000" stroke="#000" stroke-width="0.7"/>
<circle cx="457.20" cy="104.60" r="2.0" fill="#e00000" stroke="#000" stroke-width="0.7"/>
<circle cx="477.30" cy="93.30" r="1.3" fill="#e00000" stroke="#000" stroke-width="0.7"/>
<circle cx="473.30" cy="95.60" r="2.0" fill="#e00000" stroke="#000" stroke-width="0.7"/>
<circle cx="471.20" cy="97.40" r="1.3" fill="#e00000" stroke="#000" stroke-width="0.7"/>
<circle cx="476.50" cy="97.80" r="1.3" fill="#e00000" stroke="#000" stroke-width="0.7"/>
<circle cx="480.60" cy="97.40" r="2.0" fill="#e00000" stroke="#000" stroke-width="0.7"/>
<circle cx="485.10" cy="99.50" r="2.0" fill="#e00000" stroke="#000" stroke-width="0.7"/>
<circle cx="476.70" cy="100.50" r="1.3" fill="#e00000" stroke="#000" stroke-width="0.7"/>
<circle cx="481.00" cy="100.80" r="2.0" fill="#e00000" stroke="#000" stroke-width="0.7"/>
<circle cx="476.70" cy="104.20" r="2.0" fill="#e00000" stroke="#000" stroke-width="0.7"/>
<circle cx="485.10" cy="106.00" r="2.0" fill="#e00000" stroke="#000" stroke-width="0.7"/>
<circle cx="487.60" cy="104.60" r="1.3" fill="#e00000" stroke="#000" stroke-width="0.7"/>
<circle cx="469.50" cy="106.90" r="2.0" fill="#e00000" stroke="#000" stroke-width="0.7"/>
<circle cx="476.30" cy="109.00" r="2.0" fill="#e00000" stroke="#000" stroke-width="0.7"/>
<circle cx="476.30" cy="112.80" r="2.0" fill="#e00000" stroke="#000" stroke-width="0.7"/>
<circle cx="480.10" cy="112.80" r="2.0" fill="#e00000" stroke="#000" stroke-width="0.7"/>
<circle cx="487.80" cy="110.70" r="2.0" fill="#e00000" stroke="#000" stroke-width="0.7"/>
<circle cx="492.30" cy="110.10" r="2.0" fill="#e00000" stroke="#000" stroke-width="0.7"/>
<circle cx="498.00" cy="101.50" r="2.0" fill="#e00000" stroke="#000" stroke-width="0.7"/>
<circle cx="496.90" cy="113.10" r="2.0" fill="#e00000" stroke="#000" stroke-width="0.7"/>
<circle cx="496.30" cy="117.10" r="2.0" fill="#e00000" stroke="#000" stroke-width="0.7"/>
<circle cx="483.10" cy="119.60" r="2.0" fill="#e00000" stroke="#000" stroke-width="0.7"/>
<circle cx="487.80" cy="118.80" r="2.0" fill="#e00000" stroke="#000" stroke-width="0.7"/>
<circle cx="511.60" cy="111.70" r="2.0" fill="#e00000" stroke="#000" stroke-width="0.7"/>
<circle cx="516.00" cy="111.70" r="1.3" fill="#e00000" stroke="#000" stroke-width="0.7"/>
<circle cx="515.70" cy="117.80" r="1.3" fill="#e00000" stroke="#000" stroke-width="0.7"/>
<circle cx="520.20" cy="120.10" r="2.0" fill="#e00000" stroke="#000" stroke-width="0.7"/>
<circle cx="514.60" cy="122.90" r="2.0" fill="#e00000" stroke="#000" stroke-width="0.7"/>
<circle cx="527.30" cy="115.50" r="2.0" fill="#e00000" stroke="#000" stroke-width="0.7"/>
<circle cx="485.80" cy="129.40" r="2.0" fill="#e00000" stroke="#000" stroke-width="0.7"/>
<circle cx="484.10" cy="132.10" r="2.0" fill="#e00000" stroke="#000" stroke-width="0.7"/>
<circle cx="485.60" cy="136.80" r="2.0" fill="#e00000" stroke="#000" stroke-width="0.7"/>
<circle cx="491.50" cy="135.60" r="2.0" fill="#e00000" stroke="#000" stroke-width="0.7"/>
<circle cx="555.90" cy="124.70" r="1.3" fill="#e00000" stroke="#000" stroke-width="0.7"/>
<circle cx="533.90" cy="130.10" r="2.0" fill="#e00000" stroke="#000" stroke-width="0.7"/>
<circle cx="532.90" cy="131.40" r="1.3" fill="#e00000" stroke="#000" stroke-width="0.7"/>
<circle cx="537.30" cy="131.40" r="2.0" fill="#e00000" stroke="#000" stroke-width="0.7"/>
<circle cx="539.40" cy="136.30" r="2.0" fill="#e00000" stroke="#000" stroke-width="0.7"/>
<circle cx="533.00" cy="139.90" r="2.0" fill="#e00000" stroke="#000" stroke-width="0.7"/>
<circle cx="524.80" cy="138.20" r="2.0" fill="#e00000" stroke="#000" stroke-width="0.7"/>
<circle cx="517.90" cy="133.10" r="2.0" fill="#e00000" stroke="#000" stroke-width="0.7"/>
<circle cx="510.50" cy="137.90" r="2.0" fill="#e00000" stroke="#000" stroke-width="0.7"/>
<circle cx="508.80" cy="141.00" r="2.0" fill="#e00000" stroke="#000" stroke-width="0.7"/>
<circle cx="510.50" cy="142.40" r="1.3" fill="#e00000" stroke="#000" stroke-width="0.7"/>
<circle cx="511.50" cy="145.60" r="1.3" fill="#e00000" stroke="#000" stroke-width="0.7"/>
<circle cx="524.40" cy="166.90" r="1.3" fill="#e00000" stroke="#000" stroke-width="0.7"/>
<circle cx="551.60" cy="157.20" r="2.0" fill="#e00000" stroke="#000" stroke-width="0.7"/>
<circle cx="549.60" cy="160.30" r="2.0" fill="#e00000" stroke="#000" stroke-width="0.7"/>
<circle cx="547.60" cy="165.10" r="2.0" fill="#e00000" stroke="#000" stroke-width="0.7"/>
<circle cx="562.50" cy="161.00" r="2.0" fill="#e00000" stroke="#000" stroke-width="0.7"/>
<circle cx="567.70" cy="164.70" r="2.0" fill="#e00000" stroke="#000" stroke-width="0.7"/>
<circle cx="542.10" cy="166.90" r="2.0" fill="#e00000" stroke="#000" stroke-width="0.7"/>
<circle cx="540.70" cy="176.90" r="2.0" fill="#e00000" stroke="#000" stroke-width="0.7"/>
<circle cx="541.20" cy="178.00" r="1.3" fill="#e00000" stroke="#000" stroke-width="0.7"/>
<circle cx="535.40" cy="176.10" r="1.3" fill="#e00000" stroke="#000" stroke-width="0.7"/>
<circle cx="560.80" cy="176.30" r="2.0" fill="#e00000" stroke="#000" stroke-width="0.7"/>
<circle cx="594.60" cy="166.50" r="2.0" fill="#e00000" stroke="#000" stroke-width="0.7"/>
<circle cx="607.50" cy="170.30" r="2.0" fill="#e00000" stroke="#000" stroke-width="0.7"/>
<circle cx="597.10" cy="139.40" r="2.0" fill="#e00000" stroke="#000" stroke-width="0.7"/>
<circle cx="646.50" cy="181.60" r="1.6" fill="#e00000" stroke="#000" stroke-width="0.7"/>
<circle cx="646.80" cy="184.30" r="1.6" fill="#e00000" stroke="#000" stroke-width="0.7"/>
<circle cx="504.70" cy="143.70" r="1.85" fill="#ffa500" stroke="#000" stroke-width="0.7"/>
<circle cx="540.50" cy="163.50" r="1.85" fill="#ffa500" stroke="#000" stroke-width="0.7"/>
<circle cx="691.80" cy="176.10" r="1.85" fill="#ffa500" stroke="#000" stroke-width="0.7"/>
<circle cx="533.90" cy="176.40" r="1.85" fill="#008000" stroke="#000" stroke-width="0.7"/>
<circle cx="544.80" cy="182.80" r="1.85" fill="#008000" stroke="#000" stroke-width="0.7"/>
<circle cx="542.90" cy="199.90" r="1.85" fill="#008000" stroke="#000" stroke-width="0.7"/>
<circle cx="567.30" cy="207.60" r="1.85" fill="#008000" stroke="#000" stroke-width="0.7"/>
</g>
<path d="M424.83 246.50v-2.2M424.83 5.30v2.2M435.96 246.50v-2.2M435.96 5.30v2.2M447.09 246.50v-2.2M447.09 5.30v2.2M458.21 246.50v-4.3M458.21 5.30v4.3M469.34 246.50v-2.2M469.34 5.30v2.2M480.47 246.50v-2.2M480.47 5.30v2.2M491.60 246.50v-2.2M491.60 5.30v2.2M502.73 246.50v-4.3M502.73 5.30v4.3M513.86 246.50v-2.2M513.86 5.30v2.2M524.99 246.50v-2.2M524.99 5.30v2.2M536.11 246.50v-2.2M536.11 5.30v2.2M547.24 246.50v-4.3M547.24 5.30v4.3M558.37 246.50v-2.2M558.37 5.30v2.2M569.50 246.50v-2.2M569.50 5.30v2.2M580.63 246.50v-2.2M580.63 5.30v2.2M591.76 246.50v-4.3M591.76 5.30v4.3M602.89 246.50v-2.2M602.89 5.30v2.2M614.01 246.50v-2.2M614.01 5.30v2.2M625.14 246.50v-2.2M625.14 5.30v2.2M636.27 246.50v-4.3M636.27 5.30v4.3M647.40 246.50v-2.2M647.40 5.30v2.2M658.53 246.50v-2.2M658.53 5.30v2.2M669.66 246.50v-2.2M669.66 5.30v2.2M680.79 246.50v-4.3M680.79 5.30v4.3M691.91 246.50v-2.2M691.91 5.30v2.2M703.04 246.50v-2.2M703.04 5.30v2.2M714.17 246.50v-2.2M714.17 5.30v2.2M413.70 238.96h2.2M725.30 238.96h-2.2M413.70 231.43h4.3M725.30 231.43h-4.3M413.70 223.89h2.2M725.30 223.89h-2.2M413.70 216.35h2.2M725.30 216.35h-2.2M413.70 208.81h2.2M725.30 208.81h-2.2M413.70 201.28h4.3M725.30 201.28h-4.3M413.70 193.74h2.2M725.30 193.74h-2.2M413.70 186.20h2.2M725.30 186.20h-2.2M413.70 178.66h2.2M725.30 178.66h-2.2M413.70 171.13h4.3M725.30 171.13h-4.3M413.70 163.59h2.2M725.30 163.59h-2.2M413.70 156.05h2.2M725.30 156.05h-2.2M413.70 148.51h2.2M725.30 148.51h-2.2M413.70 140.98h4.3M725.30 140.98h-4.3M413.70 133.44h2.2M725.30 133.44h-2.2M413.70 125.90h2.2M725.30 125.90h-2.2M413.70 118.36h2.2M725.30 118.36h-2.2M413.70 110.82h4.3M725.30 110.82h-4.3M413.70 103.29h2.2M725.30 103.29h-2.2M413.70 95.75h2.2M725.30 95.75h-2.2M413.70 88.21h2.2M725.30 88.21h-2.2M413.70 80.67h4.3M725.30 80.67h-4.3M413.70 73.14h2.2M725.30 73.14h-2.2M413.70 65.60h2.2M725.30 65.60h-2.2M413.70 58.06h2.2M725.30 58.06h-2.2M413.70 50.53h4.3M725.30 50.53h-4.3M413.70 42.99h2.2M725.30 42.99h-2.2M413.70 35.45h2.2M725.30 35.45h-2.2M413.70 27.91h2.2M725.30 27.91h-2.2M413.70 20.38h4.3M725.30 20.38h-4.3M413.70 12.84h2.2M725.30 12.84h-2.2" stroke="#777777" stroke-width="1.1" fill="none"/>
<rect x="413.70" y="5.30" width="311.60" height="241.20" fill="none" stroke="#777777" stroke-width="1.15"/>
<text x="413.70" y="258.20" text-anchor="middle" textLength="16.38" lengthAdjust="spacingAndGlyphs">0.0</text>
<text x="458.21" y="258.20" text-anchor="middle" textLength="16.38" lengthAdjust="spacingAndGlyphs">0.2</text>
<text x="502.73" y="258.20" text-anchor="middle" textLength="16.38" lengthAdjust="spacingAndGlyphs">0.4</text>
<text x="547.24" y="258.20" text-anchor="middle" textLength="16.38" lengthAdjust="spacingAndGlyphs">0.6</text>
<text x="591.76" y="258.20" text-anchor="middle" textLength="16.38" lengthAdjust="spacingAndGlyphs">0.8</text>
<text x="636.27" y="258.20" text-anchor="middle" textLength="16.38" lengthAdjust="spacingAndGlyphs">1.0</text>
<text x="680.79" y="258.20" text-anchor="middle" textLength="16.38" lengthAdjust="spacingAndGlyphs">1.2</text>
<text x="725.30" y="258.20" text-anchor="middle" textLength="16.38" lengthAdjust="spacingAndGlyphs">1.4</text>
<text x="411.10" y="234.38" text-anchor="end" textLength="25.01" lengthAdjust="spacingAndGlyphs">−1.8</text>
<text x="411.10" y="204.23" text-anchor="end" textLength="25.01" lengthAdjust="spacingAndGlyphs">−1.6</text>
<text x="411.10" y="174.07" text-anchor="end" textLength="25.01" lengthAdjust="spacingAndGlyphs">−1.4</text>
<text x="411.10" y="143.92" text-anchor="end" textLength="25.01" lengthAdjust="spacingAndGlyphs">−1.2</text>
<text x="411.10" y="113.77" text-anchor="end" textLength="25.01" lengthAdjust="spacingAndGlyphs">−1.0</text>
<text x="411.10" y="83.62" text-anchor="end" textLength="25.01" lengthAdjust="spacingAndGlyphs">−0.8</text>
<text x="411.10" y="53.47" text-anchor="end" textLength="25.01" lengthAdjust="spacingAndGlyphs">−0.6</text>
<text x="411.10" y="23.33" text-anchor="end" textLength="25.01" lengthAdjust="spacingAndGlyphs">−0.4</text>
<text x="556.87" y="270.20" textLength="17.78" lengthAdjust="spacingAndGlyphs">R/R</text>
<text x="574.66" y="271.40" style="font-size:7.00px" textLength="7.47" lengthAdjust="spacingAndGlyphs">25</text>
<text transform="translate(382.30 125.90) rotate(-90)" x="0" y="0" text-anchor="middle" textLength="38.26" lengthAdjust="spacingAndGlyphs">log N/O</text>
<circle cx="415.8" cy="19.9" r="1.45" fill="#e00000" stroke="#000" stroke-width="0.7"/>
<rect x="657.80" y="9.40" width="63.10" height="41.80" fill="#fff" stroke="#8a8a8a" stroke-width="1.1"/>
<circle cx="670.5" cy="16.8" r="1.9" fill="#e00000" stroke="#000" stroke-width="0.6"/>
<text x="686.5" y="20.10" style="font-size:9.0px" textLength="31.47" lengthAdjust="spacingAndGlyphs">CHAOS</text>
<circle cx="670.5" cy="29.8" r="1.9" fill="#ffa500" stroke="#000" stroke-width="0.6"/>
<text x="686.5" y="33.10" style="font-size:9.0px" textLength="29.96" lengthAdjust="spacingAndGlyphs">KBG03</text>
<circle cx="670.5" cy="43.1" r="1.9" fill="#008000" stroke="#000" stroke-width="0.6"/>
<text x="686.5" y="46.40" style="font-size:9.0px" textLength="16.19" lengthAdjust="spacingAndGlyphs">L13</text>
<g clip-path="url(#c2)">
<line x1="39.5" y1="400.74" x2="351.3" y2="400.74" stroke="#333" stroke-width="1.2" stroke-dasharray="2.4 2.1"/>
<g stroke="#000" stroke-opacity="0.47" stroke-width="1.2">
<path d="M61.10 326.50V380.00"/>
<path d="M69.90 340.00V385.00"/>
<path d="M76.50 332.00V375.00"/>
<path d="M76.10 346.00V376.00"/>
<path d="M82.90 340.00V356.00"/>
<path d="M86.70 320.00V380.00"/>
<path d="M89.00 328.30V364.30"/>
<path d="M90.60 300.00V331.00"/>
<path d="M98.80 319.70V367.00"/>
<path d="M95.10 340.80V380.00"/>
<path d="M92.70 348.70V384.70"/>
<path d="M92.40 354.10V390.10"/>
<path d="M105.60 321.80V383.00"/>
<path d="M110.50 335.40V389.00"/>
<path d="M111.00 352.80V382.80"/>
<path d="M118.00 331.30V360.50"/>
<path d="M123.70 346.30V380.00"/>
<path d="M122.60 356.80V386.80"/>
<path d="M134.30 308.80V365.00"/>
<path d="M135.60 336.20V376.20"/>
<path d="M136.20 350.70V390.70"/>
<path d="M67.20 364.00V419.90"/>
<path d="M84.90 375.00V410.00"/>
<path d="M88.30 370.20V410.20"/>
<path d="M87.90 374.40V414.40"/>
<path d="M89.70 377.80V417.80"/>
<path d="M84.20 383.30V433.30"/>
<path d="M79.00 407.00V445.00"/>
<path d="M92.00 367.20V407.20"/>
<path d="M95.80 380.00V420.00"/>
<path d="M101.90 359.50V399.50"/>
<path d="M102.20 375.60V415.60"/>
<path d="M101.90 400.00V445.00"/>
<path d="M106.70 367.40V397.40"/>
<path d="M106.70 377.20V407.20"/>
<path d="M113.10 374.50V404.50"/>
<path d="M110.50 385.10V415.10"/>
<path d="M113.50 386.20V416.20"/>
<path d="M117.30 390.10V410.10"/>
<path d="M113.50 391.70V421.70"/>
<path d="M109.10 393.30V423.30"/>
<path d="M110.10 395.10V425.10"/>
<path d="M113.90 407.80V427.80"/>
<path d="M111.20 411.20V431.20"/>
<path d="M137.70 376.90V400.90"/>
<path d="M139.70 347.80V381.20"/>
<path d="M150.70 336.30V375.50"/>
<path d="M143.90 387.20V407.20"/>
<path d="M146.00 385.60V405.60"/>
<path d="M153.20 388.40V404.40"/>
<path d="M158.90 373.90V388.60"/>
<path d="M159.70 397.40V413.40"/>
<path d="M159.90 402.00V418.00"/>
<path d="M166.20 392.80V408.80"/>
<path d="M175.20 393.30V409.30"/>
<path d="M173.30 360.80V378.00"/>
<path d="M177.70 367.30V383.70"/>
<path d="M193.30 364.90V382.00"/>
<path d="M188.30 397.00V418.00"/>
<path d="M222.70 363.30V409.00"/>
<path d="M160.70 416.10V432.10"/>
<path d="M158.90 417.90V457.90"/>
<path d="M167.20 411.10V435.10"/>
<path d="M167.90 412.90V436.90"/>
<path d="M166.20 423.00V447.00"/>
<path d="M168.00 413.00V459.50"/>
<path d="M162.70 453.00V471.00"/>
<path d="M165.10 453.00V477.40"/>
<path d="M186.70 469.30V485.00"/>
<path d="M220.30 421.10V443.20"/>
<path d="M233.30 435.00V457.90"/>
<path d="M272.70 343.40V368.60"/>
<path d="M272.40 396.00V410.00"/>
<path d="M272.40 405.00V418.00"/>
<path d="M130.50 317.00V349.00"/>
</g>
<circle cx="61.10" cy="353.70" r="1.9" fill="#e00000" stroke="#000" stroke-width="0.7"/>
<circle cx="69.90" cy="362.30" r="1.9" fill="#e00000" stroke="#000" stroke-width="0.7"/>
<circle cx="76.50" cy="348.30" r="1.9" fill="#e00000" stroke="#000" stroke-width="0.7"/>
<circle cx="76.10" cy="361.00" r="1.9" fill="#e00000" stroke="#000" stroke-width="0.7"/>
<circle cx="82.90" cy="349.00" r="1.9" fill="#e00000" stroke="#000" stroke-width="0.7"/>
<circle cx="86.70" cy="350.70" r="1.9" fill="#e00000" stroke="#000" stroke-width="0.7"/>
<circle cx="89.00" cy="346.30" r="1.9" fill="#e00000" stroke="#000" stroke-width="0.7"/>
<circle cx="90.60" cy="316.30" r="1.9" fill="#e00000" stroke="#000" stroke-width="0.7"/>
<circle cx="98.80" cy="343.50" r="1.9" fill="#e00000" stroke="#000" stroke-width="0.7"/>
<circle cx="95.10" cy="358.80" r="1.9" fill="#e00000" stroke="#000" stroke-width="0.7"/>
<circle cx="92.70" cy="366.70" r="1.9" fill="#e00000" stroke="#000" stroke-width="0.7"/>
<circle cx="92.40" cy="372.10" r="1.9" fill="#e00000" stroke="#000" stroke-width="0.7"/>
<circle cx="105.60" cy="352.80" r="1.9" fill="#e00000" stroke="#000" stroke-width="0.7"/>
<circle cx="110.50" cy="362.30" r="1.9" fill="#e00000" stroke="#000" stroke-width="0.7"/>
<circle cx="111.00" cy="367.80" r="1.9" fill="#e00000" stroke="#000" stroke-width="0.7"/>
<circle cx="118.00" cy="346.00" r="1.9" fill="#e00000" stroke="#000" stroke-width="0.7"/>
<circle cx="123.70" cy="358.90" r="1.9" fill="#e00000" stroke="#000" stroke-width="0.7"/>
<circle cx="122.60" cy="371.80" r="1.9" fill="#e00000" stroke="#000" stroke-width="0.7"/>
<circle cx="134.30" cy="336.70" r="1.9" fill="#e00000" stroke="#000" stroke-width="0.7"/>
<circle cx="135.60" cy="356.20" r="1.9" fill="#e00000" stroke="#000" stroke-width="0.7"/>
<circle cx="136.20" cy="370.70" r="1.9" fill="#e00000" stroke="#000" stroke-width="0.7"/>
<circle cx="67.20" cy="392.20" r="1.9" fill="#e00000" stroke="#000" stroke-width="0.7"/>
<circle cx="84.90" cy="382.40" r="1.9" fill="#e00000" stroke="#000" stroke-width="0.7"/>
<circle cx="88.30" cy="390.20" r="1.9" fill="#e00000" stroke="#000" stroke-width="0.7"/>
<circle cx="87.90" cy="394.40" r="1.9" fill="#e00000" stroke="#000" stroke-width="0.7"/>
<circle cx="89.70" cy="397.80" r="1.9" fill="#e00000" stroke="#000" stroke-width="0.7"/>
<circle cx="84.20" cy="408.30" r="1.9" fill="#e00000" stroke="#000" stroke-width="0.7"/>
<circle cx="79.00" cy="431.20" r="1.9" fill="#e00000" stroke="#000" stroke-width="0.7"/>
<circle cx="92.00" cy="387.20" r="1.9" fill="#e00000" stroke="#000" stroke-width="0.7"/>
<circle cx="95.80" cy="398.80" r="1.9" fill="#e00000" stroke="#000" stroke-width="0.7"/>
<circle cx="101.90" cy="379.50" r="1.9" fill="#e00000" stroke="#000" stroke-width="0.7"/>
<circle cx="102.20" cy="395.60" r="1.9" fill="#e00000" stroke="#000" stroke-width="0.7"/>
<circle cx="101.90" cy="429.40" r="1.9" fill="#e00000" stroke="#000" stroke-width="0.7"/>
<circle cx="106.70" cy="382.40" r="1.9" fill="#e00000" stroke="#000" stroke-width="0.7"/>
<circle cx="106.70" cy="392.20" r="1.9" fill="#e00000" stroke="#000" stroke-width="0.7"/>
<circle cx="113.10" cy="389.50" r="1.9" fill="#e00000" stroke="#000" stroke-width="0.7"/>
<circle cx="110.50" cy="400.10" r="1.9" fill="#e00000" stroke="#000" stroke-width="0.7"/>
<circle cx="113.50" cy="401.20" r="1.9" fill="#e00000" stroke="#000" stroke-width="0.7"/>
<circle cx="117.30" cy="400.10" r="1.9" fill="#e00000" stroke="#000" stroke-width="0.7"/>
<circle cx="113.50" cy="406.70" r="1.9" fill="#e00000" stroke="#000" stroke-width="0.7"/>
<circle cx="109.10" cy="408.30" r="1.9" fill="#e00000" stroke="#000" stroke-width="0.7"/>
<circle cx="110.10" cy="410.10" r="1.9" fill="#e00000" stroke="#000" stroke-width="0.7"/>
<circle cx="113.90" cy="417.80" r="1.9" fill="#e00000" stroke="#000" stroke-width="0.7"/>
<circle cx="111.20" cy="421.20" r="1.9" fill="#e00000" stroke="#000" stroke-width="0.7"/>
<circle cx="137.70" cy="388.90" r="1.9" fill="#e00000" stroke="#000" stroke-width="0.7"/>
<circle cx="139.70" cy="364.60" r="1.9" fill="#e00000" stroke="#000" stroke-width="0.7"/>
<circle cx="150.70" cy="355.90" r="1.9" fill="#e00000" stroke="#000" stroke-width="0.7"/>
<circle cx="143.90" cy="397.20" r="1.9" fill="#e00000" stroke="#000" stroke-width="0.7"/>
<circle cx="146.00" cy="395.60" r="1.9" fill="#e00000" stroke="#000" stroke-width="0.7"/>
<circle cx="153.20" cy="396.40" r="1.9" fill="#e00000" stroke="#000" stroke-width="0.7"/>
<circle cx="158.90" cy="381.70" r="1.9" fill="#e00000" stroke="#000" stroke-width="0.7"/>
<circle cx="159.70" cy="405.40" r="1.9" fill="#e00000" stroke="#000" stroke-width="0.7"/>
<circle cx="159.90" cy="410.00" r="1.9" fill="#e00000" stroke="#000" stroke-width="0.7"/>
<circle cx="166.20" cy="400.80" r="1.9" fill="#e00000" stroke="#000" stroke-width="0.7"/>
<circle cx="175.20" cy="401.30" r="1.9" fill="#e00000" stroke="#000" stroke-width="0.7"/>
<circle cx="173.30" cy="369.50" r="1.9" fill="#e00000" stroke="#000" stroke-width="0.7"/>
<circle cx="177.70" cy="375.50" r="1.9" fill="#e00000" stroke="#000" stroke-width="0.7"/>
<circle cx="193.30" cy="373.60" r="1.9" fill="#e00000" stroke="#000" stroke-width="0.7"/>
<circle cx="188.30" cy="406.40" r="1.9" fill="#e00000" stroke="#000" stroke-width="0.7"/>
<circle cx="222.70" cy="386.10" r="1.9" fill="#e00000" stroke="#000" stroke-width="0.7"/>
<circle cx="160.70" cy="424.10" r="1.9" fill="#e00000" stroke="#000" stroke-width="0.7"/>
<circle cx="158.90" cy="435.00" r="1.9" fill="#e00000" stroke="#000" stroke-width="0.7"/>
<circle cx="167.20" cy="423.10" r="1.9" fill="#e00000" stroke="#000" stroke-width="0.7"/>
<circle cx="167.90" cy="424.90" r="1.9" fill="#e00000" stroke="#000" stroke-width="0.7"/>
<circle cx="166.20" cy="435.00" r="1.9" fill="#e00000" stroke="#000" stroke-width="0.7"/>
<circle cx="168.00" cy="436.30" r="1.9" fill="#e00000" stroke="#000" stroke-width="0.7"/>
<circle cx="162.70" cy="461.90" r="1.9" fill="#e00000" stroke="#000" stroke-width="0.7"/>
<circle cx="165.10" cy="465.50" r="1.9" fill="#e00000" stroke="#000" stroke-width="0.7"/>
<circle cx="186.70" cy="478.60" r="1.9" fill="#e00000" stroke="#000" stroke-width="0.7"/>
<circle cx="220.30" cy="432.20" r="1.9" fill="#e00000" stroke="#000" stroke-width="0.7"/>
<circle cx="233.30" cy="446.40" r="1.9" fill="#e00000" stroke="#000" stroke-width="0.7"/>
<circle cx="272.70" cy="356.10" r="1.9" fill="#e00000" stroke="#000" stroke-width="0.7"/>
<circle cx="272.40" cy="402.00" r="1.9" fill="#e00000" stroke="#000" stroke-width="0.7"/>
<circle cx="272.40" cy="411.00" r="1.9" fill="#e00000" stroke="#000" stroke-width="0.7"/>
<circle cx="130.50" cy="333.10" r="1.9" fill="#ffa500" stroke="#000" stroke-width="0.7"/>
</g>
<path d="M50.64 523.00v-2.2M50.64 281.70v2.2M61.77 523.00v-2.2M61.77 281.70v2.2M72.91 523.00v-2.2M72.91 281.70v2.2M84.04 523.00v-4.3M84.04 281.70v4.3M95.18 523.00v-2.2M95.18 281.70v2.2M106.31 523.00v-2.2M106.31 281.70v2.2M117.45 523.00v-2.2M117.45 281.70v2.2M128.59 523.00v-4.3M128.59 281.70v4.3M139.72 523.00v-2.2M139.72 281.70v2.2M150.86 523.00v-2.2M150.86 281.70v2.2M161.99 523.00v-2.2M161.99 281.70v2.2M173.13 523.00v-4.3M173.13 281.70v4.3M184.26 523.00v-2.2M184.26 281.70v2.2M195.40 523.00v-2.2M195.40 281.70v2.2M206.54 523.00v-2.2M206.54 281.70v2.2M217.67 523.00v-4.3M217.67 281.70v4.3M228.81 523.00v-2.2M228.81 281.70v2.2M239.94 523.00v-2.2M239.94 281.70v2.2M251.08 523.00v-2.2M251.08 281.70v2.2M262.21 523.00v-4.3M262.21 281.70v4.3M273.35 523.00v-2.2M273.35 281.70v2.2M284.49 523.00v-2.2M284.49 281.70v2.2M295.62 523.00v-2.2M295.62 281.70v2.2M306.76 523.00v-4.3M306.76 281.70v4.3M317.89 523.00v-2.2M317.89 281.70v2.2M329.03 523.00v-2.2M329.03 281.70v2.2M340.16 523.00v-2.2M340.16 281.70v2.2M39.50 512.95h2.2M351.30 512.95h-2.2M39.50 502.89h4.3M351.30 502.89h-4.3M39.50 492.84h2.2M351.30 492.84h-2.2M39.50 482.78h2.2M351.30 482.78h-2.2M39.50 472.73h2.2M351.30 472.73h-2.2M39.50 462.67h4.3M351.30 462.67h-4.3M39.50 452.62h2.2M351.30 452.62h-2.2M39.50 442.57h2.2M351.30 442.57h-2.2M39.50 432.51h2.2M351.30 432.51h-2.2M39.50 422.46h4.3M351.30 422.46h-4.3M39.50 412.40h2.2M351.30 412.40h-2.2M39.50 402.35h2.2M351.30 402.35h-2.2M39.50 392.30h2.2M351.30 392.30h-2.2M39.50 382.24h4.3M351.30 382.24h-4.3M39.50 372.19h2.2M351.30 372.19h-2.2M39.50 362.13h2.2M351.30 362.13h-2.2M39.50 352.08h2.2M351.30 352.08h-2.2M39.50 342.03h4.3M351.30 342.03h-4.3M39.50 331.97h2.2M351.30 331.97h-2.2M39.50 321.92h2.2M351.30 321.92h-2.2M39.50 311.86h2.2M351.30 311.86h-2.2M39.50 301.81h4.3M351.30 301.81h-4.3M39.50 291.75h2.2M351.30 291.75h-2.2" stroke="#777777" stroke-width="1.1" fill="none"/>
<rect x="39.50" y="281.70" width="311.80" height="241.30" fill="none" stroke="#777777" stroke-width="1.15"/>
<text x="39.50" y="534.70" text-anchor="middle" textLength="16.38" lengthAdjust="spacingAndGlyphs">0.0</text>
<text x="84.04" y="534.70" text-anchor="middle" textLength="16.38" lengthAdjust="spacingAndGlyphs">0.2</text>
<text x="128.59" y="534.70" text-anchor="middle" textLength="16.38" lengthAdjust="spacingAndGlyphs">0.4</text>
<text x="173.13" y="534.70" text-anchor="middle" textLength="16.38" lengthAdjust="spacingAndGlyphs">0.6</text>
<text x="217.67" y="534.70" text-anchor="middle" textLength="16.38" lengthAdjust="spacingAndGlyphs">0.8</text>
<text x="262.21" y="534.70" text-anchor="middle" textLength="16.38" lengthAdjust="spacingAndGlyphs">1.0</text>
<text x="306.76" y="534.70" text-anchor="middle" textLength="16.38" lengthAdjust="spacingAndGlyphs">1.2</text>
<text x="351.30" y="534.70" text-anchor="middle" textLength="16.38" lengthAdjust="spacingAndGlyphs">1.4</text>
<text x="36.90" y="505.84" text-anchor="end" textLength="25.01" lengthAdjust="spacingAndGlyphs">−2.0</text>
<text x="36.90" y="465.62" text-anchor="end" textLength="25.01" lengthAdjust="spacingAndGlyphs">−1.8</text>
<text x="36.90" y="425.41" text-anchor="end" textLength="25.01" lengthAdjust="spacingAndGlyphs">−1.6</text>
<text x="36.90" y="385.19" text-anchor="end" textLength="25.01" lengthAdjust="spacingAndGlyphs">−1.4</text>
<text x="36.90" y="344.97" text-anchor="end" textLength="25.01" lengthAdjust="spacingAndGlyphs">−1.2</text>
<text x="36.90" y="304.76" text-anchor="end" textLength="25.01" lengthAdjust="spacingAndGlyphs">−1.0</text>
<text x="182.77" y="546.70" textLength="17.78" lengthAdjust="spacingAndGlyphs">R/R</text>
<text x="200.56" y="547.90" style="font-size:7.00px" textLength="7.47" lengthAdjust="spacingAndGlyphs">25</text>
<text transform="translate(8.00 402.35) rotate(-90)" x="0" y="0" text-anchor="middle" textLength="37.09" lengthAdjust="spacingAndGlyphs">log S/O</text>
<rect x="283.60" y="286.40" width="63.20" height="28.50" fill="#fff" stroke="#8a8a8a" stroke-width="1.1"/>
<circle cx="296.2" cy="293.4" r="1.9" fill="#e00000" stroke="#000" stroke-width="0.6"/>
<text x="312.2" y="296.70" style="font-size:9.0px" textLength="31.47" lengthAdjust="spacingAndGlyphs">CHAOS</text>
<circle cx="296.2" cy="306.5" r="1.9" fill="#ffa500" stroke="#000" stroke-width="0.6"/>
<text x="312.2" y="309.80" style="font-size:9.0px" textLength="29.96" lengthAdjust="spacingAndGlyphs">KBG03</text>
<g clip-path="url(#c3)">
<line x1="411.9" y1="384.24" x2="726.3" y2="384.24" stroke="#222" stroke-width="1.2" stroke-dasharray="2.6 2"/>
<g stroke="#000" stroke-opacity="0.47" stroke-width="1.2">
<path d="M439.90 315.00V372.00"/>
<path d="M442.60 332.00V378.00"/>
<path d="M449.00 324.50V373.50"/>
<path d="M449.40 338.10V374.10"/>
<path d="M457.90 319.00V365.00"/>
<path d="M463.70 321.00V355.00"/>
<path d="M455.80 337.80V373.80"/>
<path d="M462.10 335.10V375.10"/>
<path d="M459.60 344.40V384.40"/>
<path d="M461.30 344.40V384.40"/>
<path d="M465.70 333.40V369.40"/>
<path d="M465.50 335.10V371.10"/>
<path d="M468.20 331.30V371.30"/>
<path d="M468.90 349.80V389.80"/>
<path d="M471.60 346.70V386.70"/>
<path d="M474.90 345.70V385.70"/>
<path d="M475.30 329.00V372.00"/>
<path d="M478.70 321.30V378.00"/>
<path d="M483.80 332.00V372.00"/>
<path d="M486.10 341.50V377.50"/>
<path d="M484.50 348.40V384.40"/>
<path d="M479.60 355.90V391.90"/>
<path d="M491.30 336.70V372.00"/>
<path d="M496.10 352.70V388.70"/>
<path d="M495.30 356.60V392.60"/>
<path d="M507.60 327.00V371.00"/>
<path d="M509.00 331.50V375.50"/>
<path d="M511.00 338.20V378.20"/>
<path d="M514.20 328.00V359.00"/>
<path d="M524.20 335.50V376.30"/>
<path d="M526.40 334.70V360.00"/>
<path d="M509.50 371.00V396.00"/>
<path d="M433.80 375.60V423.30"/>
<path d="M451.70 384.50V423.30"/>
<path d="M457.30 360.00V419.00"/>
<path d="M462.10 381.80V432.10"/>
<path d="M461.00 361.50V397.50"/>
<path d="M462.70 364.00V400.00"/>
<path d="M465.10 359.40V395.40"/>
<path d="M475.00 381.80V425.00"/>
<path d="M475.50 417.00V440.00"/>
<path d="M480.00 362.70V392.70"/>
<path d="M483.80 365.40V401.40"/>
<path d="M486.60 366.50V396.50"/>
<path d="M486.80 371.50V401.50"/>
<path d="M490.50 368.70V392.70"/>
<path d="M483.70 375.60V405.60"/>
<path d="M484.80 374.00V410.00"/>
<path d="M482.10 379.30V409.30"/>
<path d="M487.10 395.40V421.90"/>
<path d="M495.40 360.90V390.90"/>
<path d="M497.00 377.70V407.60"/>
<path d="M509.60 370.90V396.70"/>
<path d="M532.30 346.00V390.00"/>
<path d="M533.10 360.00V390.00"/>
<path d="M532.30 381.70V411.70"/>
<path d="M534.30 395.70V419.70"/>
<path d="M539.70 354.30V395.00"/>
<path d="M541.60 376.30V406.30"/>
<path d="M541.10 387.40V417.40"/>
<path d="M540.50 394.00V424.00"/>
<path d="M547.00 351.80V385.00"/>
<path d="M551.40 345.30V379.60"/>
<path d="M549.00 385.30V420.30"/>
<path d="M567.40 345.30V382.00"/>
<path d="M517.10 387.00V410.00"/>
<path d="M519.30 405.00V435.00"/>
<path d="M539.20 400.00V428.00"/>
<path d="M536.20 417.90V439.90"/>
<path d="M562.40 403.20V427.70"/>
<path d="M560.40 430.90V455.40"/>
<path d="M594.40 413.80V440.70"/>
<path d="M607.80 418.50V455.50"/>
<path d="M646.90 403.20V430.00"/>
<path d="M646.90 425.00V445.00"/>
<path d="M647.50 443.90V500.00"/>
<path d="M504.00 321.00V382.00"/>
</g>
<circle cx="439.90" cy="346.90" r="1.9" fill="#e00000" stroke="#000" stroke-width="0.7"/>
<circle cx="442.60" cy="353.50" r="1.9" fill="#e00000" stroke="#000" stroke-width="0.7"/>
<circle cx="449.00" cy="349.00" r="1.9" fill="#e00000" stroke="#000" stroke-width="0.7"/>
<circle cx="449.40" cy="356.10" r="1.9" fill="#e00000" stroke="#000" stroke-width="0.7"/>
<circle cx="457.90" cy="339.50" r="1.9" fill="#e00000" stroke="#000" stroke-width="0.7"/>
<circle cx="463.70" cy="335.10" r="1.9" fill="#e00000" stroke="#000" stroke-width="0.7"/>
<circle cx="455.80" cy="355.80" r="1.9" fill="#e00000" stroke="#000" stroke-width="0.7"/>
<circle cx="462.10" cy="355.10" r="1.9" fill="#e00000" stroke="#000" stroke-width="0.7"/>
<circle cx="459.60" cy="364.40" r="1.9" fill="#e00000" stroke="#000" stroke-width="0.7"/>
<circle cx="461.30" cy="364.40" r="1.9" fill="#e00000" stroke="#000" stroke-width="0.7"/>
<circle cx="465.70" cy="351.40" r="1.9" fill="#e00000" stroke="#000" stroke-width="0.7"/>
<circle cx="465.50" cy="353.10" r="1.9" fill="#e00000" stroke="#000" stroke-width="0.7"/>
<circle cx="468.20" cy="351.30" r="1.9" fill="#e00000" stroke="#000" stroke-width="0.7"/>
<circle cx="468.90" cy="369.80" r="1.9" fill="#e00000" stroke="#000" stroke-width="0.7"/>
<circle cx="471.60" cy="366.70" r="1.9" fill="#e00000" stroke="#000" stroke-width="0.7"/>
<circle cx="474.90" cy="365.70" r="1.9" fill="#e00000" stroke="#000" stroke-width="0.7"/>
<circle cx="475.30" cy="349.00" r="1.9" fill="#e00000" stroke="#000" stroke-width="0.7"/>
<circle cx="478.70" cy="354.00" r="1.9" fill="#e00000" stroke="#000" stroke-width="0.7"/>
<circle cx="483.80" cy="350.10" r="1.9" fill="#e00000" stroke="#000" stroke-width="0.7"/>
<circle cx="486.10" cy="359.50" r="1.9" fill="#e00000" stroke="#000" stroke-width="0.7"/>
<circle cx="484.50" cy="366.40" r="1.9" fill="#e00000" stroke="#000" stroke-width="0.7"/>
<circle cx="479.60" cy="373.90" r="1.9" fill="#e00000" stroke="#000" stroke-width="0.7"/>
<circle cx="491.30" cy="353.10" r="1.9" fill="#e00000" stroke="#000" stroke-width="0.7"/>
<circle cx="496.10" cy="370.70" r="1.9" fill="#e00000" stroke="#000" stroke-width="0.7"/>
<circle cx="495.30" cy="374.60" r="1.9" fill="#e00000" stroke="#000" stroke-width="0.7"/>
<circle cx="507.60" cy="349.00" r="1.9" fill="#e00000" stroke="#000" stroke-width="0.7"/>
<circle cx="509.00" cy="353.50" r="1.9" fill="#e00000" stroke="#000" stroke-width="0.7"/>
<circle cx="511.00" cy="358.20" r="1.9" fill="#e00000" stroke="#000" stroke-width="0.7"/>
<circle cx="514.20" cy="344.20" r="1.9" fill="#e00000" stroke="#000" stroke-width="0.7"/>
<circle cx="524.20" cy="355.90" r="1.9" fill="#e00000" stroke="#000" stroke-width="0.7"/>
<circle cx="526.40" cy="347.40" r="1.9" fill="#e00000" stroke="#000" stroke-width="0.7"/>
<circle cx="509.50" cy="384.00" r="1.9" fill="#e00000" stroke="#000" stroke-width="0.7"/>
<circle cx="433.80" cy="399.20" r="1.9" fill="#e00000" stroke="#000" stroke-width="0.7"/>
<circle cx="451.70" cy="403.50" r="1.9" fill="#e00000" stroke="#000" stroke-width="0.7"/>
<circle cx="457.30" cy="388.60" r="1.9" fill="#e00000" stroke="#000" stroke-width="0.7"/>
<circle cx="462.10" cy="407.60" r="1.9" fill="#e00000" stroke="#000" stroke-width="0.7"/>
<circle cx="461.00" cy="379.50" r="1.9" fill="#e00000" stroke="#000" stroke-width="0.7"/>
<circle cx="462.70" cy="382.00" r="1.9" fill="#e00000" stroke="#000" stroke-width="0.7"/>
<circle cx="465.10" cy="377.40" r="1.9" fill="#e00000" stroke="#000" stroke-width="0.7"/>
<circle cx="475.00" cy="402.90" r="1.9" fill="#e00000" stroke="#000" stroke-width="0.7"/>
<circle cx="475.50" cy="427.30" r="1.9" fill="#e00000" stroke="#000" stroke-width="0.7"/>
<circle cx="480.00" cy="377.70" r="1.9" fill="#e00000" stroke="#000" stroke-width="0.7"/>
<circle cx="483.80" cy="383.40" r="1.9" fill="#e00000" stroke="#000" stroke-width="0.7"/>
<circle cx="486.60" cy="381.50" r="1.9" fill="#e00000" stroke="#000" stroke-width="0.7"/>
<circle cx="486.80" cy="386.50" r="1.9" fill="#e00000" stroke="#000" stroke-width="0.7"/>
<circle cx="490.50" cy="380.70" r="1.9" fill="#e00000" stroke="#000" stroke-width="0.7"/>
<circle cx="483.70" cy="390.60" r="1.9" fill="#e00000" stroke="#000" stroke-width="0.7"/>
<circle cx="484.80" cy="392.00" r="1.9" fill="#e00000" stroke="#000" stroke-width="0.7"/>
<circle cx="482.10" cy="394.30" r="1.9" fill="#e00000" stroke="#000" stroke-width="0.7"/>
<circle cx="487.10" cy="408.60" r="1.9" fill="#e00000" stroke="#000" stroke-width="0.7"/>
<circle cx="495.40" cy="375.90" r="1.9" fill="#e00000" stroke="#000" stroke-width="0.7"/>
<circle cx="497.00" cy="389.50" r="1.9" fill="#e00000" stroke="#000" stroke-width="0.7"/>
<circle cx="509.60" cy="384.10" r="1.9" fill="#e00000" stroke="#000" stroke-width="0.7"/>
<circle cx="532.30" cy="366.50" r="1.9" fill="#e00000" stroke="#000" stroke-width="0.7"/>
<circle cx="533.10" cy="375.00" r="1.9" fill="#e00000" stroke="#000" stroke-width="0.7"/>
<circle cx="532.30" cy="396.70" r="1.9" fill="#e00000" stroke="#000" stroke-width="0.7"/>
<circle cx="534.30" cy="407.70" r="1.9" fill="#e00000" stroke="#000" stroke-width="0.7"/>
<circle cx="539.70" cy="373.60" r="1.9" fill="#e00000" stroke="#000" stroke-width="0.7"/>
<circle cx="541.60" cy="391.30" r="1.9" fill="#e00000" stroke="#000" stroke-width="0.7"/>
<circle cx="541.10" cy="402.40" r="1.9" fill="#e00000" stroke="#000" stroke-width="0.7"/>
<circle cx="540.50" cy="409.00" r="1.9" fill="#e00000" stroke="#000" stroke-width="0.7"/>
<circle cx="547.00" cy="367.70" r="1.9" fill="#e00000" stroke="#000" stroke-width="0.7"/>
<circle cx="551.40" cy="362.80" r="1.9" fill="#e00000" stroke="#000" stroke-width="0.7"/>
<circle cx="549.00" cy="402.80" r="1.9" fill="#e00000" stroke="#000" stroke-width="0.7"/>
<circle cx="567.40" cy="363.80" r="1.9" fill="#e00000" stroke="#000" stroke-width="0.7"/>
<circle cx="517.10" cy="399.20" r="1.9" fill="#e00000" stroke="#000" stroke-width="0.7"/>
<circle cx="519.30" cy="416.60" r="1.9" fill="#e00000" stroke="#000" stroke-width="0.7"/>
<circle cx="539.20" cy="415.40" r="1.9" fill="#e00000" stroke="#000" stroke-width="0.7"/>
<circle cx="536.20" cy="429.00" r="1.9" fill="#e00000" stroke="#000" stroke-width="0.7"/>
<circle cx="562.40" cy="415.40" r="1.9" fill="#e00000" stroke="#000" stroke-width="0.7"/>
<circle cx="560.40" cy="443.20" r="1.9" fill="#e00000" stroke="#000" stroke-width="0.7"/>
<circle cx="594.40" cy="427.20" r="1.9" fill="#e00000" stroke="#000" stroke-width="0.7"/>
<circle cx="607.80" cy="437.10" r="1.9" fill="#e00000" stroke="#000" stroke-width="0.7"/>
<circle cx="646.90" cy="416.00" r="1.9" fill="#e00000" stroke="#000" stroke-width="0.7"/>
<circle cx="646.90" cy="435.40" r="1.9" fill="#e00000" stroke="#000" stroke-width="0.7"/>
<circle cx="647.50" cy="477.20" r="1.9" fill="#e00000" stroke="#000" stroke-width="0.7"/>
<circle cx="504.00" cy="344.90" r="1.9" fill="#ffa500" stroke="#000" stroke-width="0.7"/>
</g>
<path d="M423.13 522.40v-2.2M423.13 279.30v2.2M434.36 522.40v-2.2M434.36 279.30v2.2M445.59 522.40v-2.2M445.59 279.30v2.2M456.81 522.40v-4.3M456.81 279.30v4.3M468.04 522.40v-2.2M468.04 279.30v2.2M479.27 522.40v-2.2M479.27 279.30v2.2M490.50 522.40v-2.2M490.50 279.30v2.2M501.73 522.40v-4.3M501.73 279.30v4.3M512.96 522.40v-2.2M512.96 279.30v2.2M524.19 522.40v-2.2M524.19 279.30v2.2M535.41 522.40v-2.2M535.41 279.30v2.2M546.64 522.40v-4.3M546.64 279.30v4.3M557.87 522.40v-2.2M557.87 279.30v2.2M569.10 522.40v-2.2M569.10 279.30v2.2M580.33 522.40v-2.2M580.33 279.30v2.2M591.56 522.40v-4.3M591.56 279.30v4.3M602.79 522.40v-2.2M602.79 279.30v2.2M614.01 522.40v-2.2M614.01 279.30v2.2M625.24 522.40v-2.2M625.24 279.30v2.2M636.47 522.40v-4.3M636.47 279.30v4.3M647.70 522.40v-2.2M647.70 279.30v2.2M658.93 522.40v-2.2M658.93 279.30v2.2M670.16 522.40v-2.2M670.16 279.30v2.2M681.39 522.40v-4.3M681.39 279.30v4.3M692.61 522.40v-2.2M692.61 279.30v2.2M703.84 522.40v-2.2M703.84 279.30v2.2M715.07 522.40v-2.2M715.07 279.30v2.2M411.90 512.27h2.2M726.30 512.27h-2.2M411.90 502.14h2.2M726.30 502.14h-2.2M411.90 492.01h2.2M726.30 492.01h-2.2M411.90 481.88h4.3M726.30 481.88h-4.3M411.90 471.75h2.2M726.30 471.75h-2.2M411.90 461.62h2.2M726.30 461.62h-2.2M411.90 451.50h2.2M726.30 451.50h-2.2M411.90 441.37h4.3M726.30 441.37h-4.3M411.90 431.24h2.2M726.30 431.24h-2.2M411.90 421.11h2.2M726.30 421.11h-2.2M411.90 410.98h2.2M726.30 410.98h-2.2M411.90 400.85h4.3M726.30 400.85h-4.3M411.90 390.72h2.2M726.30 390.72h-2.2M411.90 380.59h2.2M726.30 380.59h-2.2M411.90 370.46h2.2M726.30 370.46h-2.2M411.90 360.33h4.3M726.30 360.33h-4.3M411.90 350.20h2.2M726.30 350.20h-2.2M411.90 340.08h2.2M726.30 340.08h-2.2M411.90 329.95h2.2M726.30 329.95h-2.2M411.90 319.82h4.3M726.30 319.82h-4.3M411.90 309.69h2.2M726.30 309.69h-2.2M411.90 299.56h2.2M726.30 299.56h-2.2M411.90 289.43h2.2M726.30 289.43h-2.2" stroke="#777777" stroke-width="1.1" fill="none"/>
<rect x="411.90" y="279.30" width="314.40" height="243.10" fill="none" stroke="#777777" stroke-width="1.15"/>
<text x="411.90" y="534.10" text-anchor="middle" textLength="16.38" lengthAdjust="spacingAndGlyphs">0.0</text>
<text x="456.81" y="534.10" text-anchor="middle" textLength="16.38" lengthAdjust="spacingAndGlyphs">0.2</text>
<text x="501.73" y="534.10" text-anchor="middle" textLength="16.38" lengthAdjust="spacingAndGlyphs">0.4</text>
<text x="546.64" y="534.10" text-anchor="middle" textLength="16.38" lengthAdjust="spacingAndGlyphs">0.6</text>
<text x="591.56" y="534.10" text-anchor="middle" textLength="16.38" lengthAdjust="spacingAndGlyphs">0.8</text>
<text x="636.47" y="534.10" text-anchor="middle" textLength="16.38" lengthAdjust="spacingAndGlyphs">1.0</text>
<text x="681.39" y="534.10" text-anchor="middle" textLength="16.38" lengthAdjust="spacingAndGlyphs">1.2</text>
<text x="726.30" y="534.10" text-anchor="middle" textLength="16.38" lengthAdjust="spacingAndGlyphs">1.4</text>
<text x="409.30" y="525.35" text-anchor="end" textLength="25.01" lengthAdjust="spacingAndGlyphs">−2.8</text>
<text x="409.30" y="484.83" text-anchor="end" textLength="25.01" lengthAdjust="spacingAndGlyphs">−2.6</text>
<text x="409.30" y="444.32" text-anchor="end" textLength="25.01" lengthAdjust="spacingAndGlyphs">−2.4</text>
<text x="409.30" y="403.80" text-anchor="end" textLength="25.01" lengthAdjust="spacingAndGlyphs">−2.2</text>
<text x="409.30" y="363.28" text-anchor="end" textLength="25.01" lengthAdjust="spacingAndGlyphs">−2.0</text>
<text x="409.30" y="322.77" text-anchor="end" textLength="25.01" lengthAdjust="spacingAndGlyphs">−1.8</text>
<text x="556.47" y="546.10" textLength="17.78" lengthAdjust="spacingAndGlyphs">R/R</text>
<text x="574.26" y="547.30" style="font-size:7.00px" textLength="7.47" lengthAdjust="spacingAndGlyphs">25</text>
<text transform="translate(380.30 400.85) rotate(-90)" x="0" y="0" text-anchor="middle" textLength="41.83" lengthAdjust="spacingAndGlyphs">log Ar/O</text>
<rect x="658.50" y="283.20" width="63.30" height="29.30" fill="#fff" stroke="#8a8a8a" stroke-width="1.1"/>
<circle cx="671.2" cy="291.0" r="1.9" fill="#e00000" stroke="#000" stroke-width="0.6"/>
<text x="687.0" y="294.30" style="font-size:9.0px" textLength="31.47" lengthAdjust="spacingAndGlyphs">CHAOS</text>
<circle cx="671.2" cy="304.2" r="1.9" fill="#ffa500" stroke="#000" stroke-width="0.6"/>
<text x="687.0" y="307.50" style="font-size:9.0px" textLength="29.96" lengthAdjust="spacingAndGlyphs">KBG03</text>
<g clip-path="url(#c4)">
<line x1="225.7" y1="645.86" x2="537.2" y2="645.86" stroke="#d4d4d4" stroke-width="1.0" stroke-dasharray="none"/>
<line x1="225.7" y1="679.49" x2="537.2" y2="679.49" stroke="#d4d4d4" stroke-width="1.0" stroke-dasharray="none"/>
<line x1="225.7" y1="697.00" x2="381.45" y2="697.00" stroke="#f2b0b0" stroke-width="1.0"/>
<line x1="225.7" y1="724.38" x2="381.45" y2="724.38" stroke="#f2b0b0" stroke-width="1.0"/>
<line x1="225.7" y1="710.69" x2="381.45" y2="710.69" stroke="#d42a2a" stroke-width="1.5" stroke-dasharray="3 2"/>
<line x1="225.7" y1="662.37" x2="537.2" y2="662.37" stroke="#111" stroke-width="1.3" stroke-dasharray="3 2"/>
<g stroke="#000" stroke-opacity="0.47" stroke-width="1.2">
<path d="M292.70 578.00V601.00"/>
<path d="M253.20 605.90V676.00"/>
<path d="M262.50 631.70V675.00"/>
<path d="M262.10 642.50V662.50"/>
<path d="M265.00 628.30V667.00"/>
<path d="M275.30 632.40V665.00"/>
<path d="M278.70 618.10V655.00"/>
<path d="M292.40 622.20V690.00"/>
<path d="M297.40 632.00V672.00"/>
<path d="M296.50 639.70V663.70"/>
<path d="M270.20 632.80V725.00"/>
<path d="M275.30 648.00V690.00"/>
<path d="M278.00 644.00V688.30"/>
<path d="M281.40 676.00V712.00"/>
<path d="M291.70 652.20V674.00"/>
<path d="M299.10 660.90V684.90"/>
<path d="M297.40 664.30V688.30"/>
<path d="M300.10 669.00V689.00"/>
<path d="M299.50 679.20V695.20"/>
<path d="M295.10 680.00V696.00"/>
<path d="M288.30 661.80V700.00"/>
<path d="M288.60 679.90V699.90"/>
<path d="M288.20 690.00V711.00"/>
<path d="M308.00 665.70V677.70"/>
<path d="M309.90 674.00V691.70"/>
<path d="M320.10 661.90V669.90"/>
<path d="M322.30 659.80V667.80"/>
<path d="M326.70 658.80V668.80"/>
<path d="M329.60 663.20V673.20"/>
<path d="M332.00 634.70V663.30"/>
<path d="M303.30 695.00V718.00"/>
<path d="M268.90 698.70V714.70"/>
<path d="M271.30 699.10V715.10"/>
<path d="M274.70 704.10V724.10"/>
<path d="M275.90 704.70V724.70"/>
<path d="M276.70 712.00V740.00"/>
<path d="M281.80 712.00V742.00"/>
<path d="M287.90 723.00V739.00"/>
<path d="M296.10 709.00V725.00"/>
<path d="M296.50 708.80V740.80"/>
<path d="M304.20 705.00V725.00"/>
<path d="M309.00 708.00V725.00"/>
<path d="M272.70 727.00V764.60"/>
<path d="M278.70 728.00V761.20"/>
<path d="M284.80 730.00V762.00"/>
<path d="M321.80 693.00V721.80"/>
<path d="M324.20 701.70V713.70"/>
<path d="M344.80 628.20V634.70"/>
<path d="M353.60 635.90V643.90"/>
<path d="M346.90 644.20V652.20"/>
<path d="M352.10 649.10V657.10"/>
<path d="M354.10 651.60V659.60"/>
<path d="M345.90 656.30V664.30"/>
<path d="M351.60 658.00V666.00"/>
<path d="M345.90 662.20V670.20"/>
<path d="M348.90 663.00V671.00"/>
<path d="M352.90 663.30V671.30"/>
<path d="M359.30 660.90V668.90"/>
<path d="M361.40 662.30V672.30"/>
<path d="M363.90 647.00V655.00"/>
<path d="M372.90 646.70V654.70"/>
<path d="M374.80 652.90V658.90"/>
<path d="M379.70 656.30V664.30"/>
<path d="M408.80 629.80V647.80"/>
<path d="M406.30 665.50V671.50"/>
<path d="M419.40 656.00V664.50"/>
<path d="M338.90 690.00V702.00"/>
<path d="M344.80 702.20V715.30"/>
<path d="M336.60 713.30V721.30"/>
<path d="M458.50 654.20V664.70"/>
<path d="M458.50 657.00V665.00"/>
<path d="M316.50 664.20V672.20"/>
<path d="M352.40 642.10V650.10"/>
<path d="M503.80 624.90V635.70"/>
</g>
<circle cx="292.70" cy="588.20" r="1.9" fill="#e00000" stroke="#000" stroke-width="0.7"/>
<circle cx="253.20" cy="641.00" r="1.9" fill="#e00000" stroke="#000" stroke-width="0.7"/>
<circle cx="262.50" cy="650.10" r="1.9" fill="#e00000" stroke="#000" stroke-width="0.7"/>
<circle cx="262.10" cy="652.50" r="1.9" fill="#e00000" stroke="#000" stroke-width="0.7"/>
<circle cx="265.00" cy="647.30" r="1.9" fill="#e00000" stroke="#000" stroke-width="0.7"/>
<circle cx="275.30" cy="648.70" r="1.9" fill="#e00000" stroke="#000" stroke-width="0.7"/>
<circle cx="278.70" cy="638.50" r="1.9" fill="#e00000" stroke="#000" stroke-width="0.7"/>
<circle cx="292.40" cy="636.50" r="1.9" fill="#e00000" stroke="#000" stroke-width="0.7"/>
<circle cx="297.40" cy="649.70" r="1.9" fill="#e00000" stroke="#000" stroke-width="0.7"/>
<circle cx="296.50" cy="651.70" r="1.9" fill="#e00000" stroke="#000" stroke-width="0.7"/>
<circle cx="270.20" cy="660.10" r="1.9" fill="#e00000" stroke="#000" stroke-width="0.7"/>
<circle cx="275.30" cy="662.00" r="1.9" fill="#e00000" stroke="#000" stroke-width="0.7"/>
<circle cx="278.00" cy="671.00" r="1.9" fill="#e00000" stroke="#000" stroke-width="0.7"/>
<circle cx="281.40" cy="692.40" r="1.9" fill="#e00000" stroke="#000" stroke-width="0.7"/>
<circle cx="291.70" cy="663.10" r="1.9" fill="#e00000" stroke="#000" stroke-width="0.7"/>
<circle cx="299.10" cy="672.90" r="1.9" fill="#e00000" stroke="#000" stroke-width="0.7"/>
<circle cx="297.40" cy="676.30" r="1.9" fill="#e00000" stroke="#000" stroke-width="0.7"/>
<circle cx="300.10" cy="679.00" r="1.9" fill="#e00000" stroke="#000" stroke-width="0.7"/>
<circle cx="299.50" cy="687.20" r="1.9" fill="#e00000" stroke="#000" stroke-width="0.7"/>
<circle cx="295.10" cy="688.00" r="1.9" fill="#e00000" stroke="#000" stroke-width="0.7"/>
<circle cx="288.30" cy="680.80" r="1.9" fill="#e00000" stroke="#000" stroke-width="0.7"/>
<circle cx="288.60" cy="689.90" r="1.9" fill="#e00000" stroke="#000" stroke-width="0.7"/>
<circle cx="288.20" cy="701.90" r="1.9" fill="#e00000" stroke="#000" stroke-width="0.7"/>
<circle cx="308.00" cy="671.70" r="1.9" fill="#e00000" stroke="#000" stroke-width="0.7"/>
<circle cx="309.90" cy="683.10" r="1.9" fill="#e00000" stroke="#000" stroke-width="0.7"/>
<circle cx="320.10" cy="665.90" r="1.9" fill="#e00000" stroke="#000" stroke-width="0.7"/>
<circle cx="322.30" cy="663.80" r="1.9" fill="#e00000" stroke="#000" stroke-width="0.7"/>
<circle cx="326.70" cy="663.80" r="1.9" fill="#e00000" stroke="#000" stroke-width="0.7"/>
<circle cx="329.60" cy="668.20" r="1.9" fill="#e00000" stroke="#000" stroke-width="0.7"/>
<circle cx="332.00" cy="649.10" r="1.9" fill="#e00000" stroke="#000" stroke-width="0.7"/>
<circle cx="303.30" cy="705.60" r="1.9" fill="#e00000" stroke="#000" stroke-width="0.7"/>
<circle cx="268.90" cy="706.70" r="1.9" fill="#e00000" stroke="#000" stroke-width="0.7"/>
<circle cx="271.30" cy="707.10" r="1.9" fill="#e00000" stroke="#000" stroke-width="0.7"/>
<circle cx="274.70" cy="714.10" r="1.9" fill="#e00000" stroke="#000" stroke-width="0.7"/>
<circle cx="275.90" cy="714.70" r="1.9" fill="#e00000" stroke="#000" stroke-width="0.7"/>
<circle cx="276.70" cy="727.50" r="1.9" fill="#e00000" stroke="#000" stroke-width="0.7"/>
<circle cx="281.80" cy="726.30" r="1.9" fill="#e00000" stroke="#000" stroke-width="0.7"/>
<circle cx="287.90" cy="731.00" r="1.9" fill="#e00000" stroke="#000" stroke-width="0.7"/>
<circle cx="296.10" cy="716.70" r="1.9" fill="#e00000" stroke="#000" stroke-width="0.7"/>
<circle cx="296.50" cy="725.20" r="1.9" fill="#e00000" stroke="#000" stroke-width="0.7"/>
<circle cx="304.20" cy="717.40" r="1.9" fill="#e00000" stroke="#000" stroke-width="0.7"/>
<circle cx="309.00" cy="716.10" r="1.9" fill="#e00000" stroke="#000" stroke-width="0.7"/>
<circle cx="272.70" cy="739.50" r="1.9" fill="#e00000" stroke="#000" stroke-width="0.7"/>
<circle cx="278.70" cy="740.40" r="1.9" fill="#e00000" stroke="#000" stroke-width="0.7"/>
<circle cx="284.80" cy="744.00" r="1.9" fill="#e00000" stroke="#000" stroke-width="0.7"/>
<circle cx="321.80" cy="706.90" r="1.9" fill="#e00000" stroke="#000" stroke-width="0.7"/>
<circle cx="324.20" cy="707.70" r="1.9" fill="#e00000" stroke="#000" stroke-width="0.7"/>
<circle cx="344.80" cy="631.80" r="1.9" fill="#e00000" stroke="#000" stroke-width="0.7"/>
<circle cx="353.60" cy="639.90" r="1.9" fill="#e00000" stroke="#000" stroke-width="0.7"/>
<circle cx="346.90" cy="648.20" r="1.9" fill="#e00000" stroke="#000" stroke-width="0.7"/>
<circle cx="352.10" cy="653.10" r="1.9" fill="#e00000" stroke="#000" stroke-width="0.7"/>
<circle cx="354.10" cy="655.60" r="1.9" fill="#e00000" stroke="#000" stroke-width="0.7"/>
<circle cx="345.90" cy="660.30" r="1.9" fill="#e00000" stroke="#000" stroke-width="0.7"/>
<circle cx="351.60" cy="662.00" r="1.9" fill="#e00000" stroke="#000" stroke-width="0.7"/>
<circle cx="345.90" cy="666.20" r="1.9" fill="#e00000" stroke="#000" stroke-width="0.7"/>
<circle cx="348.90" cy="667.00" r="1.9" fill="#e00000" stroke="#000" stroke-width="0.7"/>
<circle cx="352.90" cy="667.30" r="1.9" fill="#e00000" stroke="#000" stroke-width="0.7"/>
<circle cx="359.30" cy="664.90" r="1.9" fill="#e00000" stroke="#000" stroke-width="0.7"/>
<circle cx="361.40" cy="667.30" r="1.9" fill="#e00000" stroke="#000" stroke-width="0.7"/>
<circle cx="363.90" cy="651.00" r="1.9" fill="#e00000" stroke="#000" stroke-width="0.7"/>
<circle cx="372.90" cy="650.70" r="1.9" fill="#e00000" stroke="#000" stroke-width="0.7"/>
<circle cx="374.80" cy="655.90" r="1.9" fill="#e00000" stroke="#000" stroke-width="0.7"/>
<circle cx="379.70" cy="660.30" r="1.9" fill="#e00000" stroke="#000" stroke-width="0.7"/>
<circle cx="408.80" cy="639.10" r="1.9" fill="#e00000" stroke="#000" stroke-width="0.7"/>
<circle cx="406.30" cy="668.50" r="1.9" fill="#e00000" stroke="#000" stroke-width="0.7"/>
<circle cx="419.40" cy="660.00" r="1.9" fill="#e00000" stroke="#000" stroke-width="0.7"/>
<circle cx="338.90" cy="695.90" r="1.9" fill="#e00000" stroke="#000" stroke-width="0.7"/>
<circle cx="344.80" cy="709.10" r="1.9" fill="#e00000" stroke="#000" stroke-width="0.7"/>
<circle cx="336.60" cy="717.30" r="1.9" fill="#e00000" stroke="#000" stroke-width="0.7"/>
<circle cx="458.50" cy="659.10" r="1.9" fill="#e00000" stroke="#000" stroke-width="0.7"/>
<circle cx="458.50" cy="661.00" r="1.9" fill="#e00000" stroke="#000" stroke-width="0.7"/>
<circle cx="316.50" cy="668.20" r="1.9" fill="#ffa500" stroke="#000" stroke-width="0.7"/>
<circle cx="352.40" cy="646.10" r="1.9" fill="#ffa500" stroke="#000" stroke-width="0.7"/>
<circle cx="503.80" cy="630.40" r="1.9" fill="#ffa500" stroke="#000" stroke-width="0.7"/>
</g>
<path d="M236.82 802.30v-2.2M236.82 560.70v2.2M247.95 802.30v-2.2M247.95 560.70v2.2M259.07 802.30v-2.2M259.07 560.70v2.2M270.20 802.30v-4.3M270.20 560.70v4.3M281.32 802.30v-2.2M281.32 560.70v2.2M292.45 802.30v-2.2M292.45 560.70v2.2M303.58 802.30v-2.2M303.58 560.70v2.2M314.70 802.30v-4.3M314.70 560.70v4.3M325.83 802.30v-2.2M325.83 560.70v2.2M336.95 802.30v-2.2M336.95 560.70v2.2M348.08 802.30v-2.2M348.08 560.70v2.2M359.20 802.30v-4.3M359.20 560.70v4.3M370.33 802.30v-2.2M370.33 560.70v2.2M381.45 802.30v-2.2M381.45 560.70v2.2M392.58 802.30v-2.2M392.58 560.70v2.2M403.70 802.30v-4.3M403.70 560.70v4.3M414.83 802.30v-2.2M414.83 560.70v2.2M425.95 802.30v-2.2M425.95 560.70v2.2M437.08 802.30v-2.2M437.08 560.70v2.2M448.20 802.30v-4.3M448.20 560.70v4.3M459.33 802.30v-2.2M459.33 560.70v2.2M470.45 802.30v-2.2M470.45 560.70v2.2M481.58 802.30v-2.2M481.58 560.70v2.2M492.70 802.30v-4.3M492.70 560.70v4.3M503.83 802.30v-2.2M503.83 560.70v2.2M514.95 802.30v-2.2M514.95 560.70v2.2M526.08 802.30v-2.2M526.08 560.70v2.2M225.70 792.23h2.2M537.20 792.23h-2.2M225.70 782.17h2.2M537.20 782.17h-2.2M225.70 772.10h2.2M537.20 772.10h-2.2M225.70 762.03h4.3M537.20 762.03h-4.3M225.70 751.97h2.2M537.20 751.97h-2.2M225.70 741.90h2.2M537.20 741.90h-2.2M225.70 731.83h2.2M537.20 731.83h-2.2M225.70 721.77h4.3M537.20 721.77h-4.3M225.70 711.70h2.2M537.20 711.70h-2.2M225.70 701.63h2.2M537.20 701.63h-2.2M225.70 691.57h2.2M537.20 691.57h-2.2M225.70 681.50h4.3M537.20 681.50h-4.3M225.70 671.43h2.2M537.20 671.43h-2.2M225.70 661.37h2.2M537.20 661.37h-2.2M225.70 651.30h2.2M537.20 651.30h-2.2M225.70 641.23h4.3M537.20 641.23h-4.3M225.70 631.17h2.2M537.20 631.17h-2.2M225.70 621.10h2.2M537.20 621.10h-2.2M225.70 611.03h2.2M537.20 611.03h-2.2M225.70 600.97h4.3M537.20 600.97h-4.3M225.70 590.90h2.2M537.20 590.90h-2.2M225.70 580.83h2.2M537.20 580.83h-2.2M225.70 570.77h2.2M537.20 570.77h-2.2" stroke="#777777" stroke-width="1.1" fill="none"/>
<rect x="225.70" y="560.70" width="311.50" height="241.60" fill="none" stroke="#777777" stroke-width="1.15"/>
<text x="225.70" y="814.00" text-anchor="middle" textLength="16.38" lengthAdjust="spacingAndGlyphs">0.0</text>
<text x="270.20" y="814.00" text-anchor="middle" textLength="16.38" lengthAdjust="spacingAndGlyphs">0.2</text>
<text x="314.70" y="814.00" text-anchor="middle" textLength="16.38" lengthAdjust="spacingAndGlyphs">0.4</text>
<text x="359.20" y="814.00" text-anchor="middle" textLength="16.38" lengthAdjust="spacingAndGlyphs">0.6</text>
<text x="403.70" y="814.00" text-anchor="middle" textLength="16.38" lengthAdjust="spacingAndGlyphs">0.8</text>
<text x="448.20" y="814.00" text-anchor="middle" textLength="16.38" lengthAdjust="spacingAndGlyphs">1.0</text>
<text x="492.70" y="814.00" text-anchor="middle" textLength="16.38" lengthAdjust="spacingAndGlyphs">1.2</text>
<text x="537.20" y="814.00" text-anchor="middle" textLength="16.38" lengthAdjust="spacingAndGlyphs">1.4</text>
<text x="223.10" y="805.25" text-anchor="end" textLength="25.01" lengthAdjust="spacingAndGlyphs">−1.4</text>
<text x="223.10" y="764.98" text-anchor="end" textLength="25.01" lengthAdjust="spacingAndGlyphs">−1.2</text>
<text x="223.10" y="724.72" text-anchor="end" textLength="25.01" lengthAdjust="spacingAndGlyphs">−1.0</text>
<text x="223.10" y="684.45" text-anchor="end" textLength="25.01" lengthAdjust="spacingAndGlyphs">−0.8</text>
<text x="223.10" y="644.18" text-anchor="end" textLength="25.01" lengthAdjust="spacingAndGlyphs">−0.6</text>
<text x="223.10" y="603.92" text-anchor="end" textLength="25.01" lengthAdjust="spacingAndGlyphs">−0.4</text>
<text x="223.10" y="563.65" text-anchor="end" textLength="25.01" lengthAdjust="spacingAndGlyphs">−0.2</text>
<text x="368.82" y="826.00" textLength="17.78" lengthAdjust="spacingAndGlyphs">R/R</text>
<text x="386.61" y="827.20" style="font-size:7.00px" textLength="7.47" lengthAdjust="spacingAndGlyphs">25</text>
<text transform="translate(194.00 681.50) rotate(-90)" x="0" y="0" text-anchor="middle" textLength="44.59" lengthAdjust="spacingAndGlyphs">log Ne/O</text>
<rect x="469.80" y="565.30" width="62.90" height="28.70" fill="#fff" stroke="#8a8a8a" stroke-width="1.1"/>
<circle cx="482.3" cy="572.4" r="1.9" fill="#e00000" stroke="#000" stroke-width="0.6"/>
<text x="498.3" y="575.70" style="font-size:9.0px" textLength="31.47" lengthAdjust="spacingAndGlyphs">CHAOS</text>
<circle cx="482.3" cy="585.5" r="1.9" fill="#ffa500" stroke="#000" stroke-width="0.6"/>
<text x="498.3" y="588.80" style="font-size:9.0px" textLength="29.96" lengthAdjust="spacingAndGlyphs">KBG03</text>
</svg></body></html>
